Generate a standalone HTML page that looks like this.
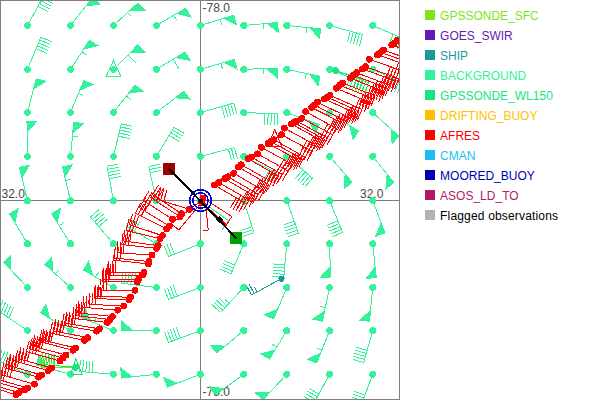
<!DOCTYPE html>
<html><head><meta charset="utf-8"><title>Wind observations</title>
<style>
html,body{margin:0;padding:0;background:#fff;}
body{width:600px;height:400px;position:relative;overflow:hidden;font-family:"Liberation Sans",Arial,sans-serif;font-size:12px;}
#plot{position:absolute;left:0;top:0;width:400px;height:400px;overflow:hidden;}
#plot svg{position:absolute;left:0;top:0;}
#frame{position:absolute;left:0;top:0;width:398px;height:398px;border:1px solid #808080;}
.li{position:absolute;left:425px;height:10px;white-space:nowrap;}
.sw{position:absolute;left:0;top:0;width:10px;height:10px;}
.tx{position:absolute;left:15.1px;top:-1.3px;line-height:14px;font-size:12px;}
</style></head><body>
<div id="plot">
<svg width="400" height="400" viewBox="0 0 400 400">
<g shape-rendering="crispEdges">
<rect x="0" y="200" width="400" height="1" fill="#7d7d7d"/>
<rect x="200" y="0" width="1" height="400" fill="#7d7d7d"/>
</g>
<g font-family="&quot;Liberation Sans&quot;, Arial, sans-serif" font-size="12" fill="#4a4a4a">
<text x="202.6" y="12">-78.0</text>
<text x="202.6" y="396">-78.0</text>
<text x="1.5" y="198">32.0</text>
<text x="360" y="198">32.0</text>
</g>
<g shape-rendering="crispEdges" stroke-linecap="butt">
<line x1="27.5" y1="25.5" x2="44" y2="-4.8" stroke="#33f299" stroke-width="1"/>
<line x1="44" y1="-4.8" x2="54.1" y2="0.7" stroke="#33f299" stroke-width="1"/>
<line x1="42.49" y1="-2.03" x2="52.59" y2="3.47" stroke="#33f299" stroke-width="1"/>
<line x1="40.99" y1="0.73" x2="51.09" y2="6.23" stroke="#33f299" stroke-width="1"/>
<line x1="39.48" y1="3.5" x2="49.58" y2="9" stroke="#33f299" stroke-width="1"/>
<line x1="37.97" y1="6.27" x2="48.07" y2="11.77" stroke="#33f299" stroke-width="1"/>
<circle cx="27.5" cy="25.5" r="3.4" fill="#33f299"/>
<line x1="70.5" y1="25.5" x2="92.5" y2="-2.2" stroke="#33f299" stroke-width="1"/>
<polygon points="92.5,-2.2 100.33,4.02 85.97,6.02" fill="#33f299" stroke="#33f299" stroke-width="1"/>
<circle cx="70.5" cy="25.5" r="3.4" fill="#33f299"/>
<line x1="113.5" y1="25.5" x2="138" y2="3" stroke="#33f299" stroke-width="1"/>
<polygon points="138,3 144.76,10.37 130.27,10.1" fill="#33f299" stroke="#33f299" stroke-width="1"/>
<line x1="127.69" y1="12.47" x2="131.41" y2="16.52" stroke="#33f299" stroke-width="1"/>
<circle cx="113.5" cy="25.5" r="3.4" fill="#33f299"/>
<line x1="156.4" y1="25.5" x2="185.75" y2="8.25" stroke="#33f299" stroke-width="1"/>
<polygon points="185.75,8.25 190.82,16.87 176.7,13.57" fill="#33f299" stroke="#33f299" stroke-width="1"/>
<line x1="173.68" y1="15.34" x2="176.47" y2="20.09" stroke="#33f299" stroke-width="1"/>
<circle cx="156.4" cy="25.5" r="3.4" fill="#33f299"/>
<line x1="200.4" y1="25.5" x2="233.6" y2="15.2" stroke="#33f299" stroke-width="1"/>
<polygon points="233.6,15.2 236.56,24.75 223.57,18.31" fill="#33f299" stroke="#33f299" stroke-width="1"/>
<line x1="220.23" y1="19.35" x2="221.86" y2="24.6" stroke="#33f299" stroke-width="1"/>
<circle cx="200.4" cy="25.5" r="3.4" fill="#33f299"/>
<line x1="243.75" y1="25.5" x2="277.5" y2="22.5" stroke="#33f299" stroke-width="1"/>
<polygon points="277.5,22.5 278.39,32.46 267.04,23.43" fill="#33f299" stroke="#33f299" stroke-width="1"/>
<line x1="263.55" y1="23.74" x2="264.04" y2="29.22" stroke="#33f299" stroke-width="1"/>
<circle cx="243.75" cy="25.5" r="3.4" fill="#33f299"/>
<line x1="286.75" y1="25.5" x2="320.5" y2="28.75" stroke="#33f299" stroke-width="1"/>
<polygon points="320.5,28.75 319.54,38.7 310.05,27.74" fill="#33f299" stroke="#33f299" stroke-width="1"/>
<line x1="306.56" y1="27.41" x2="306.04" y2="32.88" stroke="#33f299" stroke-width="1"/>
<circle cx="286.75" cy="25.5" r="3.4" fill="#33f299"/>
<line x1="329.6" y1="25.5" x2="362.5" y2="34.5" stroke="#33f299" stroke-width="1"/>
<line x1="362.5" y1="34.5" x2="359.47" y2="45.59" stroke="#33f299" stroke-width="1"/>
<line x1="359.46" y1="33.67" x2="356.43" y2="44.76" stroke="#33f299" stroke-width="1"/>
<line x1="356.42" y1="32.84" x2="353.39" y2="43.93" stroke="#33f299" stroke-width="1"/>
<line x1="353.38" y1="32.01" x2="350.35" y2="43.1" stroke="#33f299" stroke-width="1"/>
<line x1="350.35" y1="31.18" x2="347.31" y2="42.27" stroke="#33f299" stroke-width="1"/>
<circle cx="329.6" cy="25.5" r="3.4" fill="#33f299"/>
<line x1="372.7" y1="25.5" x2="404.8" y2="39.3" stroke="#33f299" stroke-width="1"/>
<line x1="404.8" y1="39.3" x2="400.26" y2="49.87" stroke="#33f299" stroke-width="1"/>
<line x1="401.91" y1="38.06" x2="397.36" y2="48.62" stroke="#33f299" stroke-width="1"/>
<line x1="399.01" y1="36.81" x2="394.47" y2="47.38" stroke="#33f299" stroke-width="1"/>
<line x1="396.12" y1="35.57" x2="391.58" y2="46.13" stroke="#33f299" stroke-width="1"/>
<line x1="393.22" y1="34.32" x2="388.68" y2="44.89" stroke="#33f299" stroke-width="1"/>
<circle cx="372.7" cy="25.5" r="3.4" fill="#33f299"/>
<line x1="27.5" y1="69.4" x2="40.9" y2="37.1" stroke="#33f299" stroke-width="1"/>
<line x1="40.9" y1="37.1" x2="51.52" y2="41.51" stroke="#33f299" stroke-width="1"/>
<line x1="39.69" y1="40.01" x2="50.32" y2="44.42" stroke="#33f299" stroke-width="1"/>
<line x1="38.49" y1="42.92" x2="49.11" y2="47.33" stroke="#33f299" stroke-width="1"/>
<line x1="37.28" y1="45.83" x2="47.9" y2="50.24" stroke="#33f299" stroke-width="1"/>
<line x1="36.07" y1="48.74" x2="46.69" y2="53.14" stroke="#33f299" stroke-width="1"/>
<circle cx="27.5" cy="69.4" r="3.4" fill="#33f299"/>
<line x1="70.5" y1="69.4" x2="89.5" y2="40.2" stroke="#33f299" stroke-width="1"/>
<polygon points="89.5,40.2 97.88,45.65 83.77,49" fill="#33f299" stroke="#33f299" stroke-width="1"/>
<line x1="81.86" y1="51.93" x2="86.47" y2="54.93" stroke="#33f299" stroke-width="1"/>
<circle cx="70.5" cy="69.4" r="3.4" fill="#33f299"/>
<line x1="113.5" y1="69.4" x2="137.7" y2="45" stroke="#33f299" stroke-width="1"/>
<polygon points="137.7,45 144.8,52.04 130.31,52.46" fill="#33f299" stroke="#33f299" stroke-width="1"/>
<line x1="127.84" y1="54.94" x2="136.01" y2="63.04" stroke="#33f299" stroke-width="1"/>
<circle cx="113.5" cy="69.4" r="3.4" fill="#33f299"/>
<line x1="156.4" y1="69.4" x2="185" y2="52" stroke="#33f299" stroke-width="1"/>
<polygon points="185,52 190.2,60.54 176.03,57.46" fill="#33f299" stroke="#33f299" stroke-width="1"/>
<line x1="173.04" y1="59.28" x2="179.02" y2="69.1" stroke="#33f299" stroke-width="1"/>
<circle cx="156.4" cy="69.4" r="3.4" fill="#33f299"/>
<line x1="200.4" y1="69.4" x2="234.25" y2="59.5" stroke="#33f299" stroke-width="1"/>
<polygon points="234.25,59.5 237.06,69.1 224.17,62.45" fill="#33f299" stroke="#33f299" stroke-width="1"/>
<line x1="220.81" y1="63.43" x2="222.36" y2="68.71" stroke="#33f299" stroke-width="1"/>
<circle cx="200.4" cy="69.4" r="3.4" fill="#33f299"/>
<line x1="243.75" y1="69.4" x2="277" y2="68" stroke="#33f299" stroke-width="1"/>
<polygon points="277,68 277.42,77.99 266.51,68.44" fill="#33f299" stroke="#33f299" stroke-width="1"/>
<line x1="263.01" y1="68.59" x2="263.24" y2="74.08" stroke="#33f299" stroke-width="1"/>
<circle cx="243.75" cy="69.4" r="3.4" fill="#33f299"/>
<line x1="286.75" y1="69.4" x2="320" y2="76.25" stroke="#33f299" stroke-width="1"/>
<polygon points="320,76.25 317.98,86.04 309.72,74.13" fill="#33f299" stroke="#33f299" stroke-width="1"/>
<line x1="306.29" y1="73.43" x2="305.18" y2="78.81" stroke="#33f299" stroke-width="1"/>
<circle cx="286.75" cy="69.4" r="3.4" fill="#33f299"/>
<line x1="329.6" y1="69.4" x2="362" y2="82" stroke="#33f299" stroke-width="1"/>
<line x1="362" y1="82" x2="357.83" y2="92.72" stroke="#33f299" stroke-width="1"/>
<line x1="359.06" y1="80.86" x2="354.9" y2="91.58" stroke="#33f299" stroke-width="1"/>
<line x1="356.13" y1="79.72" x2="351.96" y2="90.43" stroke="#33f299" stroke-width="1"/>
<line x1="353.19" y1="78.57" x2="349.02" y2="89.29" stroke="#33f299" stroke-width="1"/>
<line x1="350.26" y1="77.43" x2="346.09" y2="88.15" stroke="#33f299" stroke-width="1"/>
<circle cx="329.6" cy="69.4" r="3.4" fill="#33f299"/>
<line x1="372.7" y1="69.4" x2="405" y2="84" stroke="#33f299" stroke-width="1"/>
<line x1="405" y1="84" x2="400.26" y2="94.48" stroke="#33f299" stroke-width="1"/>
<line x1="402.13" y1="82.7" x2="397.39" y2="93.18" stroke="#33f299" stroke-width="1"/>
<line x1="399.26" y1="81.41" x2="394.52" y2="91.88" stroke="#33f299" stroke-width="1"/>
<line x1="396.39" y1="80.11" x2="391.65" y2="90.59" stroke="#33f299" stroke-width="1"/>
<line x1="393.52" y1="78.81" x2="388.78" y2="89.29" stroke="#33f299" stroke-width="1"/>
<circle cx="372.7" cy="69.4" r="3.4" fill="#33f299"/>
<line x1="27.5" y1="112.6" x2="36.25" y2="78.75" stroke="#33f299" stroke-width="1"/>
<polygon points="36.25,78.75 45.93,81.25 33.62,88.92" fill="#33f299" stroke="#33f299" stroke-width="1"/>
<circle cx="27.5" cy="112.6" r="3.4" fill="#33f299"/>
<line x1="70.5" y1="112.6" x2="83.75" y2="80.5" stroke="#33f299" stroke-width="1"/>
<polygon points="83.75,80.5 92.99,84.32 79.74,90.21" fill="#33f299" stroke="#33f299" stroke-width="1"/>
<line x1="78.41" y1="93.44" x2="83.49" y2="95.54" stroke="#33f299" stroke-width="1"/>
<circle cx="70.5" cy="112.6" r="3.4" fill="#33f299"/>
<line x1="113.5" y1="112.6" x2="135" y2="85" stroke="#33f299" stroke-width="1"/>
<polygon points="135,85 142.89,91.15 128.55,93.28" fill="#33f299" stroke="#33f299" stroke-width="1"/>
<line x1="126.4" y1="96.04" x2="130.74" y2="99.42" stroke="#33f299" stroke-width="1"/>
<circle cx="113.5" cy="112.6" r="3.4" fill="#33f299"/>
<line x1="156.4" y1="112.6" x2="183.75" y2="91.25" stroke="#33f299" stroke-width="1"/>
<polygon points="183.75,91.25 189.9,99.13 175.47,97.71" fill="#33f299" stroke="#33f299" stroke-width="1"/>
<circle cx="156.4" cy="112.6" r="3.4" fill="#33f299"/>
<line x1="200.4" y1="112.6" x2="233.75" y2="103" stroke="#33f299" stroke-width="1"/>
<line x1="233.75" y1="103" x2="236.93" y2="114.05" stroke="#33f299" stroke-width="1"/>
<line x1="230.72" y1="103.87" x2="233.9" y2="114.92" stroke="#33f299" stroke-width="1"/>
<line x1="227.7" y1="104.74" x2="230.88" y2="115.79" stroke="#33f299" stroke-width="1"/>
<line x1="224.67" y1="105.61" x2="227.85" y2="116.67" stroke="#33f299" stroke-width="1"/>
<line x1="221.64" y1="106.49" x2="224.82" y2="117.54" stroke="#33f299" stroke-width="1"/>
<circle cx="200.4" cy="112.6" r="3.4" fill="#33f299"/>
<line x1="243.75" y1="112.6" x2="277.6" y2="113.75" stroke="#33f299" stroke-width="1"/>
<line x1="277.6" y1="113.75" x2="277.21" y2="125.24" stroke="#33f299" stroke-width="1"/>
<line x1="274.45" y1="113.64" x2="274.06" y2="125.14" stroke="#33f299" stroke-width="1"/>
<line x1="271.3" y1="113.54" x2="270.91" y2="125.03" stroke="#33f299" stroke-width="1"/>
<line x1="268.16" y1="113.43" x2="267.76" y2="124.92" stroke="#33f299" stroke-width="1"/>
<line x1="265.01" y1="113.32" x2="264.62" y2="124.82" stroke="#33f299" stroke-width="1"/>
<circle cx="243.75" cy="112.6" r="3.4" fill="#33f299"/>
<line x1="286.75" y1="112.6" x2="319" y2="124.5" stroke="#33f299" stroke-width="1"/>
<polygon points="319,124.5 315.54,133.88 309.15,120.87" fill="#33f299" stroke="#33f299" stroke-width="1"/>
<circle cx="286.75" cy="112.6" r="3.4" fill="#33f299"/>
<line x1="329.6" y1="112.6" x2="358.5" y2="131" stroke="#33f299" stroke-width="1"/>
<polygon points="358.5,131 353.13,139.44 349.64,125.36" fill="#33f299" stroke="#33f299" stroke-width="1"/>
<circle cx="329.6" cy="112.6" r="3.4" fill="#33f299"/>
<line x1="372.7" y1="112.6" x2="398.8" y2="136" stroke="#33f299" stroke-width="1"/>
<polygon points="398.8,136 392.12,143.45 390.98,128.99" fill="#33f299" stroke="#33f299" stroke-width="1"/>
<circle cx="372.7" cy="112.6" r="3.4" fill="#33f299"/>
<line x1="27.5" y1="156.4" x2="27" y2="121.25" stroke="#33f299" stroke-width="1"/>
<polygon points="27,121.25 37,121.11 27.15,131.75" fill="#33f299" stroke="#33f299" stroke-width="1"/>
<circle cx="27.5" cy="156.4" r="3.4" fill="#33f299"/>
<line x1="70.5" y1="156.4" x2="73.75" y2="122.5" stroke="#33f299" stroke-width="1"/>
<polygon points="73.75,122.5 83.7,123.45 72.75,132.95" fill="#33f299" stroke="#33f299" stroke-width="1"/>
<line x1="72.41" y1="136.44" x2="77.89" y2="136.96" stroke="#33f299" stroke-width="1"/>
<circle cx="70.5" cy="156.4" r="3.4" fill="#33f299"/>
<line x1="113.5" y1="156.4" x2="121.25" y2="123.75" stroke="#33f299" stroke-width="1"/>
<line x1="121.25" y1="123.75" x2="132.44" y2="126.41" stroke="#33f299" stroke-width="1"/>
<line x1="120.52" y1="126.81" x2="131.71" y2="129.47" stroke="#33f299" stroke-width="1"/>
<line x1="119.8" y1="129.88" x2="130.98" y2="132.54" stroke="#33f299" stroke-width="1"/>
<line x1="119.07" y1="132.94" x2="130.26" y2="135.6" stroke="#33f299" stroke-width="1"/>
<line x1="118.34" y1="136.01" x2="129.53" y2="138.67" stroke="#33f299" stroke-width="1"/>
<circle cx="113.5" cy="156.4" r="3.4" fill="#33f299"/>
<line x1="156.4" y1="156.4" x2="174.1" y2="127.25" stroke="#33f299" stroke-width="1"/>
<line x1="174.1" y1="127.25" x2="183.93" y2="133.22" stroke="#33f299" stroke-width="1"/>
<line x1="172.47" y1="129.94" x2="182.29" y2="135.91" stroke="#33f299" stroke-width="1"/>
<line x1="170.83" y1="132.64" x2="180.66" y2="138.6" stroke="#33f299" stroke-width="1"/>
<line x1="169.2" y1="135.33" x2="179.03" y2="141.3" stroke="#33f299" stroke-width="1"/>
<circle cx="156.4" cy="156.4" r="3.4" fill="#33f299"/>
<line x1="200.4" y1="156.4" x2="234.5" y2="147.6" stroke="#33f299" stroke-width="1"/>
<line x1="234.5" y1="147.6" x2="237.37" y2="158.74" stroke="#33f299" stroke-width="1"/>
<line x1="231.45" y1="148.39" x2="234.32" y2="159.52" stroke="#33f299" stroke-width="1"/>
<line x1="228.4" y1="149.17" x2="231.27" y2="160.31" stroke="#33f299" stroke-width="1"/>
<circle cx="200.4" cy="156.4" r="3.4" fill="#33f299"/>
<line x1="243.75" y1="156.4" x2="275" y2="172" stroke="#33f299" stroke-width="1"/>
<line x1="275" y1="172" x2="269.86" y2="182.29" stroke="#33f299" stroke-width="1"/>
<line x1="272.18" y1="170.59" x2="267.05" y2="180.88" stroke="#33f299" stroke-width="1"/>
<line x1="269.36" y1="169.19" x2="264.23" y2="179.48" stroke="#33f299" stroke-width="1"/>
<circle cx="243.75" cy="156.4" r="3.4" fill="#33f299"/>
<line x1="286.75" y1="156.4" x2="312.5" y2="178" stroke="#33f299" stroke-width="1"/>
<line x1="312.5" y1="178" x2="305.11" y2="186.81" stroke="#33f299" stroke-width="1"/>
<line x1="310.09" y1="175.98" x2="302.7" y2="184.79" stroke="#33f299" stroke-width="1"/>
<line x1="307.67" y1="173.95" x2="300.28" y2="182.76" stroke="#33f299" stroke-width="1"/>
<line x1="305.26" y1="171.93" x2="297.87" y2="180.74" stroke="#33f299" stroke-width="1"/>
<line x1="302.85" y1="169.9" x2="295.46" y2="178.71" stroke="#33f299" stroke-width="1"/>
<circle cx="286.75" cy="156.4" r="3.4" fill="#33f299"/>
<line x1="329.6" y1="156.4" x2="352" y2="182" stroke="#33f299" stroke-width="1"/>
<polygon points="352,182 344.47,188.59 345.09,174.1" fill="#33f299" stroke="#33f299" stroke-width="1"/>
<circle cx="329.6" cy="156.4" r="3.4" fill="#33f299"/>
<line x1="372.7" y1="156.4" x2="393.75" y2="182.5" stroke="#33f299" stroke-width="1"/>
<polygon points="393.75,182.5 385.97,188.78 387.16,174.33" fill="#33f299" stroke="#33f299" stroke-width="1"/>
<circle cx="372.7" cy="156.4" r="3.4" fill="#33f299"/>
<line x1="27.5" y1="200.7" x2="19.5" y2="167.5" stroke="#33f299" stroke-width="1"/>
<polygon points="19.5,167.5 29.22,165.16 21.96,177.71" fill="#33f299" stroke="#33f299" stroke-width="1"/>
<circle cx="27.5" cy="200.7" r="3.4" fill="#33f299"/>
<line x1="70.5" y1="200.7" x2="62.5" y2="167" stroke="#33f299" stroke-width="1"/>
<polygon points="62.5,167 72.23,164.69 64.93,177.22" fill="#33f299" stroke="#33f299" stroke-width="1"/>
<line x1="65.73" y1="180.62" x2="71.08" y2="179.35" stroke="#33f299" stroke-width="1"/>
<circle cx="70.5" cy="200.7" r="3.4" fill="#33f299"/>
<line x1="113.5" y1="200.7" x2="107" y2="166.25" stroke="#33f299" stroke-width="1"/>
<line x1="107" y1="166.25" x2="118.3" y2="164.12" stroke="#33f299" stroke-width="1"/>
<line x1="107.58" y1="169.35" x2="118.88" y2="167.21" stroke="#33f299" stroke-width="1"/>
<line x1="108.17" y1="172.44" x2="119.47" y2="170.31" stroke="#33f299" stroke-width="1"/>
<line x1="108.75" y1="175.54" x2="120.05" y2="173.4" stroke="#33f299" stroke-width="1"/>
<line x1="109.34" y1="178.63" x2="120.64" y2="176.5" stroke="#33f299" stroke-width="1"/>
<circle cx="113.5" cy="200.7" r="3.4" fill="#33f299"/>
<line x1="156.4" y1="200.7" x2="148.75" y2="166.6" stroke="#33f299" stroke-width="1"/>
<line x1="148.75" y1="166.6" x2="159.97" y2="164.08" stroke="#33f299" stroke-width="1"/>
<line x1="149.44" y1="169.67" x2="160.66" y2="167.16" stroke="#33f299" stroke-width="1"/>
<line x1="150.13" y1="172.75" x2="161.35" y2="170.23" stroke="#33f299" stroke-width="1"/>
<circle cx="156.4" cy="200.7" r="3.4" fill="#33f299"/>
<line x1="200.4" y1="200.7" x2="228.6" y2="220.6" stroke="#33f299" stroke-width="1"/>
<line x1="228.6" y1="220.6" x2="221.97" y2="230" stroke="#33f299" stroke-width="1"/>
<circle cx="200.4" cy="200.7" r="3.4" fill="#33f299"/>
<line x1="243.75" y1="200.7" x2="254" y2="232.8" stroke="#33f299" stroke-width="1"/>
<line x1="254" y1="232.8" x2="243.04" y2="236.3" stroke="#33f299" stroke-width="1"/>
<line x1="253.04" y1="229.8" x2="242.09" y2="233.3" stroke="#33f299" stroke-width="1"/>
<line x1="252.08" y1="226.8" x2="241.13" y2="230.3" stroke="#33f299" stroke-width="1"/>
<circle cx="243.75" cy="200.7" r="3.4" fill="#33f299"/>
<line x1="286.75" y1="200.7" x2="298.5" y2="233" stroke="#33f299" stroke-width="1"/>
<line x1="298.5" y1="233" x2="287.69" y2="236.93" stroke="#33f299" stroke-width="1"/>
<line x1="297.42" y1="230.04" x2="286.62" y2="233.97" stroke="#33f299" stroke-width="1"/>
<line x1="296.35" y1="227.08" x2="285.54" y2="231.01" stroke="#33f299" stroke-width="1"/>
<line x1="295.27" y1="224.12" x2="284.46" y2="228.05" stroke="#33f299" stroke-width="1"/>
<line x1="294.19" y1="221.16" x2="283.39" y2="225.09" stroke="#33f299" stroke-width="1"/>
<circle cx="286.75" cy="200.7" r="3.4" fill="#33f299"/>
<line x1="329.6" y1="200.7" x2="342.6" y2="232.5" stroke="#33f299" stroke-width="1"/>
<line x1="342.6" y1="232.5" x2="331.96" y2="236.85" stroke="#33f299" stroke-width="1"/>
<line x1="341.41" y1="229.58" x2="330.76" y2="233.94" stroke="#33f299" stroke-width="1"/>
<line x1="340.22" y1="226.67" x2="329.57" y2="231.02" stroke="#33f299" stroke-width="1"/>
<line x1="339.02" y1="223.75" x2="328.38" y2="228.1" stroke="#33f299" stroke-width="1"/>
<line x1="337.83" y1="220.84" x2="327.19" y2="225.19" stroke="#33f299" stroke-width="1"/>
<circle cx="329.6" cy="200.7" r="3.4" fill="#33f299"/>
<line x1="372.7" y1="200.7" x2="385" y2="232.8" stroke="#33f299" stroke-width="1"/>
<polygon points="385,232.8 375.66,236.38 381.24,223" fill="#33f299" stroke="#33f299" stroke-width="1"/>
<circle cx="372.7" cy="200.7" r="3.4" fill="#33f299"/>
<line x1="27.5" y1="243.75" x2="9.5" y2="213.75" stroke="#33f299" stroke-width="1"/>
<polygon points="9.5,213.75 18.07,208.61 14.9,222.75" fill="#33f299" stroke="#33f299" stroke-width="1"/>
<circle cx="27.5" cy="243.75" r="3.4" fill="#33f299"/>
<line x1="70.5" y1="243.75" x2="51.75" y2="213.75" stroke="#33f299" stroke-width="1"/>
<polygon points="51.75,213.75 60.23,208.45 57.31,222.65" fill="#33f299" stroke="#33f299" stroke-width="1"/>
<line x1="59.17" y1="225.62" x2="63.83" y2="222.71" stroke="#33f299" stroke-width="1"/>
<circle cx="70.5" cy="243.75" r="3.4" fill="#33f299"/>
<line x1="113.5" y1="243.75" x2="90.5" y2="217" stroke="#33f299" stroke-width="1"/>
<line x1="90.5" y1="217" x2="99.22" y2="209.5" stroke="#33f299" stroke-width="1"/>
<line x1="92.55" y1="219.39" x2="101.27" y2="211.89" stroke="#33f299" stroke-width="1"/>
<line x1="94.61" y1="221.78" x2="103.33" y2="214.28" stroke="#33f299" stroke-width="1"/>
<line x1="96.66" y1="224.17" x2="105.38" y2="216.67" stroke="#33f299" stroke-width="1"/>
<line x1="98.71" y1="226.55" x2="107.43" y2="219.06" stroke="#33f299" stroke-width="1"/>
<circle cx="113.5" cy="243.75" r="3.4" fill="#33f299"/>
<line x1="156.4" y1="243.75" x2="126" y2="226.5" stroke="#33f299" stroke-width="1"/>
<line x1="126" y1="226.5" x2="131.68" y2="216.5" stroke="#33f299" stroke-width="1"/>
<line x1="128.74" y1="228.05" x2="134.42" y2="218.05" stroke="#33f299" stroke-width="1"/>
<line x1="131.48" y1="229.61" x2="137.15" y2="219.61" stroke="#33f299" stroke-width="1"/>
<line x1="134.22" y1="231.16" x2="139.89" y2="221.16" stroke="#33f299" stroke-width="1"/>
<circle cx="156.4" cy="243.75" r="3.4" fill="#33f299"/>
<line x1="200.4" y1="243.75" x2="168.5" y2="256.5" stroke="#33f299" stroke-width="1"/>
<line x1="168.5" y1="256.5" x2="164.23" y2="245.82" stroke="#33f299" stroke-width="1"/>
<line x1="171.43" y1="255.33" x2="167.16" y2="244.65" stroke="#33f299" stroke-width="1"/>
<line x1="174.35" y1="254.16" x2="170.08" y2="243.48" stroke="#33f299" stroke-width="1"/>
<circle cx="200.4" cy="243.75" r="3.4" fill="#33f299"/>
<line x1="243.75" y1="243.75" x2="231" y2="273.8" stroke="#33f299" stroke-width="1"/>
<line x1="231" y1="273.8" x2="220.41" y2="269.31" stroke="#33f299" stroke-width="1"/>
<line x1="232.23" y1="270.9" x2="221.64" y2="266.41" stroke="#33f299" stroke-width="1"/>
<line x1="233.46" y1="268" x2="222.87" y2="263.51" stroke="#33f299" stroke-width="1"/>
<line x1="234.69" y1="265.1" x2="224.1" y2="260.61" stroke="#33f299" stroke-width="1"/>
<circle cx="243.75" cy="243.75" r="3.4" fill="#33f299"/>
<line x1="286.75" y1="243.75" x2="283.75" y2="277.5" stroke="#33f299" stroke-width="1"/>
<line x1="283.75" y1="277.5" x2="272.3" y2="276.48" stroke="#33f299" stroke-width="1"/>
<line x1="284.03" y1="274.36" x2="272.57" y2="273.34" stroke="#33f299" stroke-width="1"/>
<line x1="284.31" y1="271.22" x2="272.85" y2="270.21" stroke="#33f299" stroke-width="1"/>
<line x1="284.59" y1="268.09" x2="273.13" y2="267.07" stroke="#33f299" stroke-width="1"/>
<line x1="284.87" y1="264.95" x2="273.41" y2="263.93" stroke="#33f299" stroke-width="1"/>
<circle cx="286.75" cy="243.75" r="3.4" fill="#33f299"/>
<line x1="329.6" y1="243.75" x2="330.5" y2="277" stroke="#33f299" stroke-width="1"/>
<polygon points="330.5,277 320.5,277.27 330.22,266.5" fill="#33f299" stroke="#33f299" stroke-width="1"/>
<circle cx="329.6" cy="243.75" r="3.4" fill="#33f299"/>
<line x1="372.7" y1="243.75" x2="376.25" y2="277.5" stroke="#33f299" stroke-width="1"/>
<polygon points="376.25,277.5 366.3,278.55 375.15,267.06" fill="#33f299" stroke="#33f299" stroke-width="1"/>
<circle cx="372.7" cy="243.75" r="3.4" fill="#33f299"/>
<line x1="27.5" y1="287.5" x2="3.75" y2="262.5" stroke="#33f299" stroke-width="1"/>
<polygon points="3.75,262.5 11,255.61 10.98,270.11" fill="#33f299" stroke="#33f299" stroke-width="1"/>
<circle cx="27.5" cy="287.5" r="3.4" fill="#33f299"/>
<line x1="70.5" y1="287.5" x2="45" y2="264.5" stroke="#33f299" stroke-width="1"/>
<polygon points="45,264.5 51.7,257.07 52.8,271.53" fill="#33f299" stroke="#33f299" stroke-width="1"/>
<line x1="55.4" y1="273.88" x2="59.08" y2="269.79" stroke="#33f299" stroke-width="1"/>
<circle cx="70.5" cy="287.5" r="3.4" fill="#33f299"/>
<line x1="113.5" y1="287.5" x2="83.5" y2="270" stroke="#33f299" stroke-width="1"/>
<polygon points="83.5,270 88.54,261.36 92.57,275.29" fill="#33f299" stroke="#33f299" stroke-width="1"/>
<line x1="95.59" y1="277.05" x2="98.36" y2="272.3" stroke="#33f299" stroke-width="1"/>
<circle cx="113.5" cy="287.5" r="3.4" fill="#33f299"/>
<line x1="156.4" y1="287.5" x2="121.5" y2="283.2" stroke="#33f299" stroke-width="1"/>
<line x1="121.5" y1="283.2" x2="122.91" y2="271.79" stroke="#33f299" stroke-width="1"/>
<line x1="124.63" y1="283.59" x2="126.03" y2="272.17" stroke="#33f299" stroke-width="1"/>
<line x1="127.75" y1="283.97" x2="129.16" y2="272.56" stroke="#33f299" stroke-width="1"/>
<line x1="130.88" y1="284.36" x2="132.29" y2="272.94" stroke="#33f299" stroke-width="1"/>
<line x1="134.01" y1="284.74" x2="135.41" y2="273.33" stroke="#33f299" stroke-width="1"/>
<circle cx="156.4" cy="287.5" r="3.4" fill="#33f299"/>
<line x1="200.4" y1="287.5" x2="168.5" y2="299.5" stroke="#33f299" stroke-width="1"/>
<line x1="168.5" y1="299.5" x2="164.45" y2="288.74" stroke="#33f299" stroke-width="1"/>
<line x1="171.45" y1="298.39" x2="167.4" y2="287.63" stroke="#33f299" stroke-width="1"/>
<line x1="174.4" y1="297.28" x2="170.35" y2="286.52" stroke="#33f299" stroke-width="1"/>
<line x1="177.34" y1="296.17" x2="173.3" y2="285.41" stroke="#33f299" stroke-width="1"/>
<circle cx="200.4" cy="287.5" r="3.4" fill="#33f299"/>
<line x1="243.75" y1="287.5" x2="220.5" y2="312.5" stroke="#33f299" stroke-width="1"/>
<line x1="220.5" y1="312.5" x2="212.08" y2="304.67" stroke="#33f299" stroke-width="1"/>
<line x1="222.65" y1="310.19" x2="214.22" y2="302.36" stroke="#33f299" stroke-width="1"/>
<line x1="224.79" y1="307.89" x2="216.37" y2="300.06" stroke="#33f299" stroke-width="1"/>
<line x1="226.94" y1="305.58" x2="218.51" y2="297.75" stroke="#33f299" stroke-width="1"/>
<line x1="229.08" y1="303.27" x2="225.05" y2="299.53" stroke="#33f299" stroke-width="1"/>
<circle cx="243.75" cy="287.5" r="3.4" fill="#33f299"/>
<line x1="286.75" y1="287.5" x2="273.75" y2="318.75" stroke="#33f299" stroke-width="1"/>
<polygon points="273.75,318.75 264.52,314.91 277.78,309.06" fill="#33f299" stroke="#33f299" stroke-width="1"/>
<circle cx="286.75" cy="287.5" r="3.4" fill="#33f299"/>
<line x1="329.6" y1="287.5" x2="322.5" y2="321.25" stroke="#33f299" stroke-width="1"/>
<polygon points="322.5,321.25 312.71,319.19 324.66,310.97" fill="#33f299" stroke="#33f299" stroke-width="1"/>
<line x1="325.38" y1="307.55" x2="320" y2="306.42" stroke="#33f299" stroke-width="1"/>
<circle cx="329.6" cy="287.5" r="3.4" fill="#33f299"/>
<line x1="372.7" y1="287.5" x2="369.5" y2="321.25" stroke="#33f299" stroke-width="1"/>
<polygon points="369.5,321.25 359.54,320.31 370.49,310.8" fill="#33f299" stroke="#33f299" stroke-width="1"/>
<circle cx="372.7" cy="287.5" r="3.4" fill="#33f299"/>
<line x1="27.5" y1="330.6" x2="-1.5" y2="311" stroke="#33f299" stroke-width="1"/>
<line x1="-1.5" y1="311" x2="2.95" y2="300.39" stroke="#33f299" stroke-width="1"/>
<line x1="1.11" y1="312.76" x2="5.56" y2="302.16" stroke="#33f299" stroke-width="1"/>
<line x1="3.72" y1="314.53" x2="8.17" y2="303.92" stroke="#33f299" stroke-width="1"/>
<line x1="6.33" y1="316.29" x2="10.78" y2="305.69" stroke="#33f299" stroke-width="1"/>
<line x1="8.94" y1="318.06" x2="13.39" y2="307.45" stroke="#33f299" stroke-width="1"/>
<circle cx="27.5" cy="330.6" r="3.4" fill="#33f299"/>
<line x1="70.5" y1="330.6" x2="40.75" y2="313" stroke="#33f299" stroke-width="1"/>
<polygon points="40.75,313 45.84,304.39 49.79,318.35" fill="#33f299" stroke="#33f299" stroke-width="1"/>
<circle cx="70.5" cy="330.6" r="3.4" fill="#33f299"/>
<line x1="113.5" y1="330.6" x2="81.25" y2="317.5" stroke="#33f299" stroke-width="1"/>
<polygon points="81.25,317.5 85.01,308.24 90.98,321.45" fill="#33f299" stroke="#33f299" stroke-width="1"/>
<line x1="94.22" y1="322.77" x2="96.29" y2="317.67" stroke="#33f299" stroke-width="1"/>
<circle cx="113.5" cy="330.6" r="3.4" fill="#33f299"/>
<line x1="156.4" y1="330.6" x2="121.5" y2="330.5" stroke="#33f299" stroke-width="1"/>
<polygon points="121.5,330.5 121.53,320.5 132,330.53" fill="#33f299" stroke="#33f299" stroke-width="1"/>
<circle cx="156.4" cy="330.6" r="3.4" fill="#33f299"/>
<line x1="200.4" y1="330.6" x2="168.5" y2="342.5" stroke="#33f299" stroke-width="1"/>
<line x1="168.5" y1="342.5" x2="164.48" y2="331.73" stroke="#33f299" stroke-width="1"/>
<line x1="171.45" y1="341.4" x2="167.43" y2="330.62" stroke="#33f299" stroke-width="1"/>
<line x1="174.4" y1="340.3" x2="170.38" y2="329.52" stroke="#33f299" stroke-width="1"/>
<line x1="177.35" y1="339.2" x2="173.33" y2="328.42" stroke="#33f299" stroke-width="1"/>
<line x1="180.31" y1="338.1" x2="176.29" y2="327.32" stroke="#33f299" stroke-width="1"/>
<circle cx="200.4" cy="330.6" r="3.4" fill="#33f299"/>
<line x1="243.75" y1="330.6" x2="216.75" y2="352.9" stroke="#33f299" stroke-width="1"/>
<polygon points="216.75,352.9 210.38,345.19 224.85,346.21" fill="#33f299" stroke="#33f299" stroke-width="1"/>
<circle cx="243.75" cy="330.6" r="3.4" fill="#33f299"/>
<line x1="286.75" y1="330.6" x2="269.5" y2="359" stroke="#33f299" stroke-width="1"/>
<polygon points="269.5,359 260.95,353.81 274.95,350.03" fill="#33f299" stroke="#33f299" stroke-width="1"/>
<line x1="276.77" y1="347.03" x2="272.07" y2="344.18" stroke="#33f299" stroke-width="1"/>
<circle cx="286.75" cy="330.6" r="3.4" fill="#33f299"/>
<line x1="329.6" y1="330.6" x2="316.6" y2="363" stroke="#33f299" stroke-width="1"/>
<polygon points="316.6,363 307.32,359.28 320.51,353.26" fill="#33f299" stroke="#33f299" stroke-width="1"/>
<line x1="321.81" y1="350.01" x2="316.71" y2="347.96" stroke="#33f299" stroke-width="1"/>
<circle cx="329.6" cy="330.6" r="3.4" fill="#33f299"/>
<line x1="372.7" y1="330.6" x2="363.75" y2="362.5" stroke="#33f299" stroke-width="1"/>
<line x1="363.75" y1="362.5" x2="352.68" y2="359.39" stroke="#33f299" stroke-width="1"/>
<line x1="364.6" y1="359.47" x2="353.53" y2="356.36" stroke="#33f299" stroke-width="1"/>
<line x1="365.45" y1="356.43" x2="354.38" y2="353.33" stroke="#33f299" stroke-width="1"/>
<line x1="366.3" y1="353.4" x2="355.23" y2="350.29" stroke="#33f299" stroke-width="1"/>
<line x1="367.15" y1="350.37" x2="356.08" y2="347.26" stroke="#33f299" stroke-width="1"/>
<circle cx="372.7" cy="330.6" r="3.4" fill="#33f299"/>
<line x1="27.5" y1="374.3" x2="-5.5" y2="359" stroke="#33f299" stroke-width="1"/>
<line x1="-5.5" y1="359" x2="-0.66" y2="348.57" stroke="#33f299" stroke-width="1"/>
<line x1="-2.64" y1="360.32" x2="2.19" y2="349.89" stroke="#33f299" stroke-width="1"/>
<line x1="0.22" y1="361.65" x2="5.05" y2="351.22" stroke="#33f299" stroke-width="1"/>
<line x1="3.07" y1="362.97" x2="7.91" y2="352.54" stroke="#33f299" stroke-width="1"/>
<line x1="5.93" y1="364.3" x2="10.77" y2="353.87" stroke="#33f299" stroke-width="1"/>
<circle cx="27.5" cy="374.3" r="3.4" fill="#33f299"/>
<line x1="70.5" y1="374.3" x2="36.5" y2="365" stroke="#33f299" stroke-width="1"/>
<polygon points="36.5,365 39.14,355.35 46.63,367.77" fill="#33f299" stroke="#33f299" stroke-width="1"/>
<circle cx="70.5" cy="374.3" r="3.4" fill="#33f299"/>
<line x1="113.5" y1="374.3" x2="79.5" y2="371.5" stroke="#33f299" stroke-width="1"/>
<line x1="79.5" y1="371.5" x2="80.44" y2="360.04" stroke="#33f299" stroke-width="1"/>
<line x1="82.64" y1="371.76" x2="83.58" y2="360.3" stroke="#33f299" stroke-width="1"/>
<line x1="85.78" y1="372.02" x2="86.72" y2="360.56" stroke="#33f299" stroke-width="1"/>
<line x1="88.92" y1="372.28" x2="89.86" y2="360.81" stroke="#33f299" stroke-width="1"/>
<line x1="92.06" y1="372.53" x2="93" y2="361.07" stroke="#33f299" stroke-width="1"/>
<circle cx="113.5" cy="374.3" r="3.4" fill="#33f299"/>
<line x1="156.4" y1="374.3" x2="121.75" y2="378" stroke="#33f299" stroke-width="1"/>
<polygon points="121.75,378 120.69,368.06 132.19,376.89" fill="#33f299" stroke="#33f299" stroke-width="1"/>
<circle cx="156.4" cy="374.3" r="3.4" fill="#33f299"/>
<line x1="200.4" y1="374.3" x2="167.5" y2="387" stroke="#33f299" stroke-width="1"/>
<polygon points="167.5,387 163.9,377.67 177.3,383.22" fill="#33f299" stroke="#33f299" stroke-width="1"/>
<circle cx="200.4" cy="374.3" r="3.4" fill="#33f299"/>
<line x1="243.75" y1="374.3" x2="215.45" y2="394.85" stroke="#33f299" stroke-width="1"/>
<polygon points="215.45,394.85 209.57,386.76 223.95,388.68" fill="#33f299" stroke="#33f299" stroke-width="1"/>
<circle cx="243.75" cy="374.3" r="3.4" fill="#33f299"/>
<line x1="286.75" y1="374.3" x2="262.85" y2="399.8" stroke="#33f299" stroke-width="1"/>
<polygon points="262.85,399.8 255.55,392.96 270.03,392.14" fill="#33f299" stroke="#33f299" stroke-width="1"/>
<circle cx="286.75" cy="374.3" r="3.4" fill="#33f299"/>
<line x1="329.6" y1="374.3" x2="312.9" y2="405" stroke="#33f299" stroke-width="1"/>
<line x1="312.9" y1="405" x2="302.8" y2="399.5" stroke="#33f299" stroke-width="1"/>
<line x1="314.41" y1="402.23" x2="304.3" y2="396.74" stroke="#33f299" stroke-width="1"/>
<line x1="315.91" y1="399.47" x2="305.81" y2="393.97" stroke="#33f299" stroke-width="1"/>
<line x1="317.42" y1="396.7" x2="307.31" y2="391.2" stroke="#33f299" stroke-width="1"/>
<line x1="318.92" y1="393.93" x2="308.82" y2="388.44" stroke="#33f299" stroke-width="1"/>
<circle cx="329.6" cy="374.3" r="3.4" fill="#33f299"/>
<line x1="372.7" y1="374.3" x2="360.5" y2="407" stroke="#33f299" stroke-width="1"/>
<line x1="360.5" y1="407" x2="349.73" y2="402.98" stroke="#33f299" stroke-width="1"/>
<line x1="361.6" y1="404.05" x2="350.83" y2="400.03" stroke="#33f299" stroke-width="1"/>
<line x1="362.7" y1="401.1" x2="351.93" y2="397.08" stroke="#33f299" stroke-width="1"/>
<line x1="363.8" y1="398.15" x2="353.03" y2="394.13" stroke="#33f299" stroke-width="1"/>
<line x1="364.9" y1="395.19" x2="354.13" y2="391.17" stroke="#33f299" stroke-width="1"/>
<circle cx="372.7" cy="374.3" r="3.4" fill="#33f299"/>
<polygon points="113.5,60.5 106.2,76.2 120.8,76.2" fill="none" stroke="#33f299" stroke-width="1"/>
<line x1="335.6" y1="70.6" x2="368.5" y2="82.5" stroke="#7fe519" stroke-width="1"/>
<line x1="368.5" y1="82.5" x2="364.59" y2="93.31" stroke="#7fe519" stroke-width="1"/>
<line x1="365.54" y1="81.43" x2="361.63" y2="92.24" stroke="#7fe519" stroke-width="1"/>
<line x1="362.58" y1="80.36" x2="358.66" y2="91.17" stroke="#7fe519" stroke-width="1"/>
<line x1="359.61" y1="79.29" x2="355.7" y2="90.1" stroke="#7fe519" stroke-width="1"/>
<circle cx="335.6" cy="70.6" r="3.4" fill="#7fe519"/>
<line x1="335.6" y1="70.6" x2="369" y2="81" stroke="#19e57f" stroke-width="1"/>
<line x1="369" y1="81" x2="365.58" y2="91.98" stroke="#19e57f" stroke-width="1"/>
<line x1="365.99" y1="80.06" x2="362.57" y2="91.04" stroke="#19e57f" stroke-width="1"/>
<line x1="362.98" y1="79.13" x2="359.57" y2="90.11" stroke="#19e57f" stroke-width="1"/>
<line x1="359.98" y1="78.19" x2="356.56" y2="89.17" stroke="#19e57f" stroke-width="1"/>
<line x1="356.97" y1="77.25" x2="353.55" y2="88.23" stroke="#19e57f" stroke-width="1"/>
<circle cx="335.6" cy="70.6" r="3.4" fill="#19e57f"/>
<line x1="75.75" y1="367.3" x2="40.5" y2="367.3" stroke="#7fe519" stroke-width="1"/>
<line x1="40.5" y1="367.3" x2="40.5" y2="355.8" stroke="#7fe519" stroke-width="1"/>
<line x1="43.65" y1="367.3" x2="43.65" y2="355.8" stroke="#7fe519" stroke-width="1"/>
<line x1="46.8" y1="367.3" x2="46.8" y2="355.8" stroke="#7fe519" stroke-width="1"/>
<line x1="49.95" y1="367.3" x2="49.95" y2="355.8" stroke="#7fe519" stroke-width="1"/>
<line x1="53.1" y1="367.3" x2="53.1" y2="355.8" stroke="#7fe519" stroke-width="1"/>
<circle cx="75.75" cy="367.3" r="3.4" fill="#7fe519"/>
<line x1="75.75" y1="367.3" x2="41.5" y2="364.5" stroke="#19e57f" stroke-width="1"/>
<line x1="41.5" y1="364.5" x2="42.44" y2="353.04" stroke="#19e57f" stroke-width="1"/>
<line x1="44.64" y1="364.76" x2="45.58" y2="353.29" stroke="#19e57f" stroke-width="1"/>
<line x1="47.78" y1="365.01" x2="48.72" y2="353.55" stroke="#19e57f" stroke-width="1"/>
<line x1="50.92" y1="365.27" x2="51.86" y2="353.81" stroke="#19e57f" stroke-width="1"/>
<line x1="54.06" y1="365.53" x2="55" y2="354.06" stroke="#19e57f" stroke-width="1"/>
<circle cx="75.75" cy="367.3" r="3.4" fill="#19e57f"/>
<polygon points="75.75,358.7 70.6,374.3 82,374.3" fill="none" stroke="#19e57f" stroke-width="1"/>
<line x1="281.5" y1="278.6" x2="251.5" y2="295" stroke="#199999" stroke-width="1"/>
<line x1="251.5" y1="295" x2="246.61" y2="286.05" stroke="#199999" stroke-width="1"/>
<line x1="254.26" y1="293.49" x2="249.37" y2="284.54" stroke="#199999" stroke-width="1"/>
<line x1="257.03" y1="291.98" x2="254.39" y2="287.15" stroke="#199999" stroke-width="1"/>
<circle cx="281.5" cy="278.6" r="3.1" fill="#199999"/>
<line x1="214.25" y1="185" x2="244.48" y2="202.64" stroke="#ff0000" stroke-width="1"/>
<line x1="244.48" y1="202.64" x2="238.68" y2="212.58" stroke="#ff0000" stroke-width="1"/>
<line x1="241.76" y1="201.06" x2="235.96" y2="210.99" stroke="#ff0000" stroke-width="1"/>
<line x1="239.04" y1="199.47" x2="233.24" y2="209.4" stroke="#ff0000" stroke-width="1"/>
<line x1="236.32" y1="197.88" x2="230.52" y2="207.81" stroke="#ff0000" stroke-width="1"/>
<line x1="218.75" y1="182.5" x2="249.07" y2="199.98" stroke="#ff0000" stroke-width="1"/>
<line x1="249.07" y1="199.98" x2="243.33" y2="209.94" stroke="#ff0000" stroke-width="1"/>
<line x1="246.34" y1="198.41" x2="240.6" y2="208.37" stroke="#ff0000" stroke-width="1"/>
<line x1="243.61" y1="196.83" x2="237.87" y2="206.8" stroke="#ff0000" stroke-width="1"/>
<line x1="240.89" y1="195.26" x2="235.14" y2="205.22" stroke="#ff0000" stroke-width="1"/>
<line x1="224.75" y1="178.7" x2="254.93" y2="196.42" stroke="#ff0000" stroke-width="1"/>
<line x1="254.93" y1="196.42" x2="249.11" y2="206.34" stroke="#ff0000" stroke-width="1"/>
<line x1="252.22" y1="194.83" x2="246.39" y2="204.74" stroke="#ff0000" stroke-width="1"/>
<line x1="249.5" y1="193.23" x2="243.68" y2="203.15" stroke="#ff0000" stroke-width="1"/>
<line x1="246.78" y1="191.64" x2="240.96" y2="201.55" stroke="#ff0000" stroke-width="1"/>
<line x1="227.75" y1="176.75" x2="258.17" y2="194.06" stroke="#ff0000" stroke-width="1"/>
<line x1="258.17" y1="194.06" x2="252.48" y2="204.06" stroke="#ff0000" stroke-width="1"/>
<line x1="255.43" y1="192.51" x2="249.74" y2="202.5" stroke="#ff0000" stroke-width="1"/>
<line x1="252.69" y1="190.95" x2="247" y2="200.94" stroke="#ff0000" stroke-width="1"/>
<line x1="249.95" y1="189.39" x2="244.27" y2="199.38" stroke="#ff0000" stroke-width="1"/>
<line x1="233.75" y1="173.3" x2="264.04" y2="190.83" stroke="#ff0000" stroke-width="1"/>
<line x1="264.04" y1="190.83" x2="258.28" y2="200.79" stroke="#ff0000" stroke-width="1"/>
<line x1="261.31" y1="189.26" x2="255.55" y2="199.21" stroke="#ff0000" stroke-width="1"/>
<line x1="258.59" y1="187.68" x2="252.83" y2="197.63" stroke="#ff0000" stroke-width="1"/>
<line x1="255.86" y1="186.1" x2="250.1" y2="196.05" stroke="#ff0000" stroke-width="1"/>
<line x1="238.25" y1="167" x2="268.65" y2="184.34" stroke="#ff0000" stroke-width="1"/>
<line x1="268.65" y1="184.34" x2="262.95" y2="194.33" stroke="#ff0000" stroke-width="1"/>
<line x1="265.91" y1="182.78" x2="260.22" y2="192.77" stroke="#ff0000" stroke-width="1"/>
<line x1="263.18" y1="181.22" x2="257.48" y2="191.21" stroke="#ff0000" stroke-width="1"/>
<line x1="260.44" y1="179.66" x2="254.74" y2="189.65" stroke="#ff0000" stroke-width="1"/>
<line x1="241.25" y1="164.75" x2="271.79" y2="181.86" stroke="#ff0000" stroke-width="1"/>
<line x1="271.79" y1="181.86" x2="266.16" y2="191.89" stroke="#ff0000" stroke-width="1"/>
<line x1="269.04" y1="180.32" x2="263.42" y2="190.35" stroke="#ff0000" stroke-width="1"/>
<line x1="266.29" y1="178.78" x2="260.67" y2="188.81" stroke="#ff0000" stroke-width="1"/>
<line x1="263.54" y1="177.24" x2="257.92" y2="187.27" stroke="#ff0000" stroke-width="1"/>
<line x1="248" y1="158.75" x2="278.43" y2="176.04" stroke="#ff0000" stroke-width="1"/>
<line x1="278.43" y1="176.04" x2="272.75" y2="186.04" stroke="#ff0000" stroke-width="1"/>
<line x1="275.69" y1="174.49" x2="270.01" y2="184.48" stroke="#ff0000" stroke-width="1"/>
<line x1="272.95" y1="172.93" x2="267.27" y2="182.93" stroke="#ff0000" stroke-width="1"/>
<line x1="270.21" y1="171.37" x2="264.53" y2="181.37" stroke="#ff0000" stroke-width="1"/>
<line x1="251.4" y1="157.2" x2="282.02" y2="174.15" stroke="#ff0000" stroke-width="1"/>
<line x1="282.02" y1="174.15" x2="276.45" y2="184.21" stroke="#ff0000" stroke-width="1"/>
<line x1="279.26" y1="172.63" x2="273.69" y2="182.69" stroke="#ff0000" stroke-width="1"/>
<line x1="276.51" y1="171.1" x2="270.94" y2="181.16" stroke="#ff0000" stroke-width="1"/>
<line x1="273.75" y1="169.57" x2="268.18" y2="179.64" stroke="#ff0000" stroke-width="1"/>
<line x1="257.5" y1="153.8" x2="288.02" y2="170.93" stroke="#ff0000" stroke-width="1"/>
<line x1="288.02" y1="170.93" x2="282.39" y2="180.96" stroke="#ff0000" stroke-width="1"/>
<line x1="285.27" y1="169.39" x2="279.65" y2="179.42" stroke="#ff0000" stroke-width="1"/>
<line x1="282.53" y1="167.85" x2="276.9" y2="177.87" stroke="#ff0000" stroke-width="1"/>
<line x1="279.78" y1="166.3" x2="274.15" y2="176.33" stroke="#ff0000" stroke-width="1"/>
<line x1="261.3" y1="147.3" x2="292" y2="164.12" stroke="#ff0000" stroke-width="1"/>
<line x1="292" y1="164.12" x2="286.47" y2="174.2" stroke="#ff0000" stroke-width="1"/>
<line x1="289.23" y1="162.6" x2="283.71" y2="172.69" stroke="#ff0000" stroke-width="1"/>
<line x1="286.47" y1="161.09" x2="280.94" y2="171.18" stroke="#ff0000" stroke-width="1"/>
<line x1="283.71" y1="159.58" x2="278.18" y2="169.66" stroke="#ff0000" stroke-width="1"/>
<line x1="268" y1="143.5" x2="298.73" y2="160.25" stroke="#ff0000" stroke-width="1"/>
<line x1="298.73" y1="160.25" x2="293.23" y2="170.34" stroke="#ff0000" stroke-width="1"/>
<line x1="295.97" y1="158.74" x2="290.47" y2="168.84" stroke="#ff0000" stroke-width="1"/>
<line x1="293.2" y1="157.23" x2="287.7" y2="167.33" stroke="#ff0000" stroke-width="1"/>
<line x1="290.44" y1="155.72" x2="284.93" y2="165.82" stroke="#ff0000" stroke-width="1"/>
<line x1="271" y1="141.6" x2="301.64" y2="158.52" stroke="#ff0000" stroke-width="1"/>
<line x1="301.64" y1="158.52" x2="296.08" y2="168.59" stroke="#ff0000" stroke-width="1"/>
<line x1="298.88" y1="157" x2="293.32" y2="167.07" stroke="#ff0000" stroke-width="1"/>
<line x1="296.12" y1="155.48" x2="290.56" y2="165.54" stroke="#ff0000" stroke-width="1"/>
<line x1="293.37" y1="153.95" x2="287.81" y2="164.02" stroke="#ff0000" stroke-width="1"/>
<line x1="274" y1="139.75" x2="304.52" y2="156.89" stroke="#ff0000" stroke-width="1"/>
<line x1="304.52" y1="156.89" x2="298.88" y2="166.92" stroke="#ff0000" stroke-width="1"/>
<line x1="301.77" y1="155.35" x2="296.14" y2="165.37" stroke="#ff0000" stroke-width="1"/>
<line x1="299.02" y1="153.81" x2="293.39" y2="163.83" stroke="#ff0000" stroke-width="1"/>
<line x1="296.28" y1="152.26" x2="290.64" y2="162.29" stroke="#ff0000" stroke-width="1"/>
<line x1="281.4" y1="134.7" x2="312.22" y2="151.29" stroke="#ff0000" stroke-width="1"/>
<line x1="312.22" y1="151.29" x2="306.77" y2="161.42" stroke="#ff0000" stroke-width="1"/>
<line x1="309.45" y1="149.8" x2="303.99" y2="159.92" stroke="#ff0000" stroke-width="1"/>
<line x1="306.67" y1="148.3" x2="301.22" y2="158.43" stroke="#ff0000" stroke-width="1"/>
<line x1="303.9" y1="146.81" x2="298.45" y2="156.94" stroke="#ff0000" stroke-width="1"/>
<line x1="284.4" y1="128.2" x2="315.22" y2="144.78" stroke="#ff0000" stroke-width="1"/>
<line x1="315.22" y1="144.78" x2="309.78" y2="154.91" stroke="#ff0000" stroke-width="1"/>
<line x1="312.45" y1="143.29" x2="307" y2="153.42" stroke="#ff0000" stroke-width="1"/>
<line x1="309.68" y1="141.8" x2="304.23" y2="151.92" stroke="#ff0000" stroke-width="1"/>
<line x1="306.9" y1="140.3" x2="301.45" y2="150.43" stroke="#ff0000" stroke-width="1"/>
<line x1="291.25" y1="124" x2="321.98" y2="140.75" stroke="#ff0000" stroke-width="1"/>
<line x1="321.98" y1="140.75" x2="316.48" y2="150.85" stroke="#ff0000" stroke-width="1"/>
<line x1="319.21" y1="139.24" x2="313.71" y2="149.34" stroke="#ff0000" stroke-width="1"/>
<line x1="316.45" y1="137.74" x2="310.94" y2="147.83" stroke="#ff0000" stroke-width="1"/>
<line x1="313.68" y1="136.23" x2="308.18" y2="146.33" stroke="#ff0000" stroke-width="1"/>
<line x1="293.9" y1="122.5" x2="324.54" y2="139.42" stroke="#ff0000" stroke-width="1"/>
<line x1="324.54" y1="139.42" x2="318.97" y2="149.49" stroke="#ff0000" stroke-width="1"/>
<line x1="321.78" y1="137.9" x2="316.22" y2="147.97" stroke="#ff0000" stroke-width="1"/>
<line x1="319.02" y1="136.38" x2="313.46" y2="146.44" stroke="#ff0000" stroke-width="1"/>
<line x1="316.26" y1="134.86" x2="310.7" y2="144.92" stroke="#ff0000" stroke-width="1"/>
<line x1="296.5" y1="121" x2="327.28" y2="137.65" stroke="#ff0000" stroke-width="1"/>
<line x1="327.28" y1="137.65" x2="321.81" y2="147.77" stroke="#ff0000" stroke-width="1"/>
<line x1="324.51" y1="136.15" x2="319.04" y2="146.27" stroke="#ff0000" stroke-width="1"/>
<line x1="321.74" y1="134.66" x2="316.27" y2="144.77" stroke="#ff0000" stroke-width="1"/>
<line x1="318.97" y1="133.16" x2="313.5" y2="143.27" stroke="#ff0000" stroke-width="1"/>
<line x1="301.7" y1="118.3" x2="332.58" y2="134.77" stroke="#ff0000" stroke-width="1"/>
<line x1="332.58" y1="134.77" x2="327.17" y2="144.92" stroke="#ff0000" stroke-width="1"/>
<line x1="329.8" y1="133.29" x2="324.39" y2="143.44" stroke="#ff0000" stroke-width="1"/>
<line x1="327.02" y1="131.81" x2="321.61" y2="141.95" stroke="#ff0000" stroke-width="1"/>
<line x1="324.24" y1="130.33" x2="318.83" y2="140.47" stroke="#ff0000" stroke-width="1"/>
<line x1="305.5" y1="111.6" x2="336.22" y2="128.37" stroke="#ff0000" stroke-width="1"/>
<line x1="336.22" y1="128.37" x2="330.71" y2="138.46" stroke="#ff0000" stroke-width="1"/>
<line x1="333.46" y1="126.86" x2="327.95" y2="136.95" stroke="#ff0000" stroke-width="1"/>
<line x1="330.69" y1="125.35" x2="325.18" y2="135.44" stroke="#ff0000" stroke-width="1"/>
<line x1="327.93" y1="123.84" x2="322.42" y2="133.93" stroke="#ff0000" stroke-width="1"/>
<line x1="311.5" y1="107.5" x2="342.76" y2="123.24" stroke="#ff0000" stroke-width="1"/>
<line x1="342.76" y1="123.24" x2="337.59" y2="133.52" stroke="#ff0000" stroke-width="1"/>
<line x1="339.95" y1="121.83" x2="334.77" y2="132.1" stroke="#ff0000" stroke-width="1"/>
<line x1="337.13" y1="120.41" x2="331.96" y2="130.68" stroke="#ff0000" stroke-width="1"/>
<line x1="334.32" y1="118.99" x2="329.15" y2="129.26" stroke="#ff0000" stroke-width="1"/>
<line x1="314.5" y1="105" x2="345.65" y2="120.96" stroke="#ff0000" stroke-width="1"/>
<line x1="345.65" y1="120.96" x2="340.41" y2="131.19" stroke="#ff0000" stroke-width="1"/>
<line x1="342.85" y1="119.52" x2="337.6" y2="129.76" stroke="#ff0000" stroke-width="1"/>
<line x1="340.04" y1="118.08" x2="334.8" y2="128.32" stroke="#ff0000" stroke-width="1"/>
<line x1="337.24" y1="116.65" x2="332" y2="126.88" stroke="#ff0000" stroke-width="1"/>
<line x1="317.5" y1="102.25" x2="349" y2="117.5" stroke="#ff0000" stroke-width="1"/>
<line x1="349" y1="117.5" x2="343.99" y2="127.85" stroke="#ff0000" stroke-width="1"/>
<line x1="346.17" y1="116.13" x2="341.16" y2="126.48" stroke="#ff0000" stroke-width="1"/>
<line x1="343.33" y1="114.75" x2="338.32" y2="125.11" stroke="#ff0000" stroke-width="1"/>
<line x1="340.5" y1="113.38" x2="335.49" y2="123.73" stroke="#ff0000" stroke-width="1"/>
<line x1="324.5" y1="99" x2="356.34" y2="113.53" stroke="#ff0000" stroke-width="1"/>
<line x1="356.34" y1="113.53" x2="351.56" y2="124" stroke="#ff0000" stroke-width="1"/>
<line x1="353.47" y1="112.23" x2="348.7" y2="122.69" stroke="#ff0000" stroke-width="1"/>
<line x1="350.61" y1="110.92" x2="345.83" y2="121.38" stroke="#ff0000" stroke-width="1"/>
<line x1="347.74" y1="109.61" x2="342.97" y2="120.07" stroke="#ff0000" stroke-width="1"/>
<line x1="327.3" y1="97.2" x2="359.27" y2="111.44" stroke="#ff0000" stroke-width="1"/>
<line x1="359.27" y1="111.44" x2="354.59" y2="121.95" stroke="#ff0000" stroke-width="1"/>
<line x1="356.39" y1="110.16" x2="351.72" y2="120.66" stroke="#ff0000" stroke-width="1"/>
<line x1="353.52" y1="108.88" x2="348.84" y2="119.38" stroke="#ff0000" stroke-width="1"/>
<line x1="350.64" y1="107.6" x2="345.96" y2="118.1" stroke="#ff0000" stroke-width="1"/>
<line x1="330" y1="95.3" x2="362.04" y2="109.39" stroke="#ff0000" stroke-width="1"/>
<line x1="362.04" y1="109.39" x2="357.41" y2="119.92" stroke="#ff0000" stroke-width="1"/>
<line x1="359.15" y1="108.12" x2="354.52" y2="118.65" stroke="#ff0000" stroke-width="1"/>
<line x1="356.27" y1="106.86" x2="351.64" y2="117.38" stroke="#ff0000" stroke-width="1"/>
<line x1="353.39" y1="105.59" x2="348.76" y2="116.11" stroke="#ff0000" stroke-width="1"/>
<line x1="336.25" y1="88.25" x2="368.48" y2="101.9" stroke="#ff0000" stroke-width="1"/>
<line x1="368.48" y1="101.9" x2="363.99" y2="112.49" stroke="#ff0000" stroke-width="1"/>
<line x1="365.58" y1="100.67" x2="361.09" y2="111.26" stroke="#ff0000" stroke-width="1"/>
<line x1="362.68" y1="99.44" x2="358.19" y2="110.03" stroke="#ff0000" stroke-width="1"/>
<line x1="359.78" y1="98.22" x2="355.29" y2="108.8" stroke="#ff0000" stroke-width="1"/>
<line x1="339.6" y1="85.25" x2="372.15" y2="98.12" stroke="#ff0000" stroke-width="1"/>
<line x1="372.15" y1="98.12" x2="367.92" y2="108.82" stroke="#ff0000" stroke-width="1"/>
<line x1="369.22" y1="96.96" x2="364.99" y2="107.66" stroke="#ff0000" stroke-width="1"/>
<line x1="366.29" y1="95.81" x2="362.06" y2="106.5" stroke="#ff0000" stroke-width="1"/>
<line x1="363.36" y1="94.65" x2="359.13" y2="105.34" stroke="#ff0000" stroke-width="1"/>
<line x1="342.6" y1="82.9" x2="375.09" y2="95.92" stroke="#ff0000" stroke-width="1"/>
<line x1="375.09" y1="95.92" x2="370.81" y2="106.59" stroke="#ff0000" stroke-width="1"/>
<line x1="372.17" y1="94.74" x2="367.89" y2="105.42" stroke="#ff0000" stroke-width="1"/>
<line x1="369.24" y1="93.57" x2="364.97" y2="104.25" stroke="#ff0000" stroke-width="1"/>
<line x1="366.32" y1="92.4" x2="362.04" y2="103.08" stroke="#ff0000" stroke-width="1"/>
<line x1="350.3" y1="78.2" x2="382.9" y2="90.95" stroke="#ff0000" stroke-width="1"/>
<line x1="382.9" y1="90.95" x2="378.71" y2="101.66" stroke="#ff0000" stroke-width="1"/>
<line x1="379.96" y1="89.8" x2="375.77" y2="100.51" stroke="#ff0000" stroke-width="1"/>
<line x1="377.03" y1="88.66" x2="372.84" y2="99.36" stroke="#ff0000" stroke-width="1"/>
<line x1="374.09" y1="87.51" x2="369.91" y2="98.22" stroke="#ff0000" stroke-width="1"/>
<line x1="371.16" y1="86.36" x2="366.97" y2="97.07" stroke="#ff0000" stroke-width="1"/>
<line x1="353.5" y1="75.3" x2="386.22" y2="87.72" stroke="#ff0000" stroke-width="1"/>
<line x1="386.22" y1="87.72" x2="382.14" y2="98.47" stroke="#ff0000" stroke-width="1"/>
<line x1="383.28" y1="86.6" x2="379.2" y2="97.35" stroke="#ff0000" stroke-width="1"/>
<line x1="380.33" y1="85.48" x2="376.25" y2="96.24" stroke="#ff0000" stroke-width="1"/>
<line x1="377.39" y1="84.37" x2="373.31" y2="95.12" stroke="#ff0000" stroke-width="1"/>
<line x1="374.44" y1="83.25" x2="370.36" y2="94" stroke="#ff0000" stroke-width="1"/>
<line x1="356.5" y1="72.75" x2="389.23" y2="85.16" stroke="#ff0000" stroke-width="1"/>
<line x1="389.23" y1="85.16" x2="385.15" y2="95.91" stroke="#ff0000" stroke-width="1"/>
<line x1="386.28" y1="84.04" x2="382.21" y2="94.79" stroke="#ff0000" stroke-width="1"/>
<line x1="383.34" y1="82.92" x2="379.26" y2="93.68" stroke="#ff0000" stroke-width="1"/>
<line x1="380.39" y1="81.81" x2="376.32" y2="92.56" stroke="#ff0000" stroke-width="1"/>
<line x1="377.45" y1="80.69" x2="373.37" y2="91.44" stroke="#ff0000" stroke-width="1"/>
<line x1="362.5" y1="69" x2="395.44" y2="80.83" stroke="#ff0000" stroke-width="1"/>
<line x1="395.44" y1="80.83" x2="391.55" y2="91.65" stroke="#ff0000" stroke-width="1"/>
<line x1="392.48" y1="79.77" x2="388.59" y2="90.59" stroke="#ff0000" stroke-width="1"/>
<line x1="389.51" y1="78.7" x2="385.62" y2="89.52" stroke="#ff0000" stroke-width="1"/>
<line x1="386.55" y1="77.64" x2="382.66" y2="88.46" stroke="#ff0000" stroke-width="1"/>
<line x1="383.58" y1="76.57" x2="379.69" y2="87.39" stroke="#ff0000" stroke-width="1"/>
<line x1="365.5" y1="66.75" x2="398.49" y2="78.45" stroke="#ff0000" stroke-width="1"/>
<line x1="398.49" y1="78.45" x2="394.64" y2="89.29" stroke="#ff0000" stroke-width="1"/>
<line x1="395.52" y1="77.4" x2="391.67" y2="88.23" stroke="#ff0000" stroke-width="1"/>
<line x1="392.55" y1="76.34" x2="388.71" y2="87.18" stroke="#ff0000" stroke-width="1"/>
<line x1="389.58" y1="75.29" x2="385.74" y2="86.13" stroke="#ff0000" stroke-width="1"/>
<line x1="386.61" y1="74.24" x2="382.77" y2="85.08" stroke="#ff0000" stroke-width="1"/>
<line x1="369.25" y1="59.25" x2="402.29" y2="70.79" stroke="#ff0000" stroke-width="1"/>
<line x1="402.29" y1="70.79" x2="398.5" y2="81.64" stroke="#ff0000" stroke-width="1"/>
<line x1="399.32" y1="69.75" x2="395.53" y2="80.6" stroke="#ff0000" stroke-width="1"/>
<line x1="396.35" y1="68.71" x2="392.56" y2="79.57" stroke="#ff0000" stroke-width="1"/>
<line x1="393.37" y1="67.67" x2="389.58" y2="78.53" stroke="#ff0000" stroke-width="1"/>
<line x1="390.4" y1="66.63" x2="386.61" y2="77.49" stroke="#ff0000" stroke-width="1"/>
<line x1="377.5" y1="54.75" x2="410.54" y2="66.29" stroke="#ff0000" stroke-width="1"/>
<line x1="410.54" y1="66.29" x2="406.75" y2="77.15" stroke="#ff0000" stroke-width="1"/>
<line x1="407.57" y1="65.26" x2="403.77" y2="76.11" stroke="#ff0000" stroke-width="1"/>
<line x1="404.59" y1="64.22" x2="400.8" y2="75.07" stroke="#ff0000" stroke-width="1"/>
<line x1="401.62" y1="63.18" x2="397.83" y2="74.03" stroke="#ff0000" stroke-width="1"/>
<line x1="398.65" y1="62.14" x2="394.85" y2="72.99" stroke="#ff0000" stroke-width="1"/>
<line x1="380.5" y1="52.5" x2="413.61" y2="63.84" stroke="#ff0000" stroke-width="1"/>
<line x1="413.61" y1="63.84" x2="409.88" y2="74.72" stroke="#ff0000" stroke-width="1"/>
<line x1="410.63" y1="62.82" x2="406.9" y2="73.7" stroke="#ff0000" stroke-width="1"/>
<line x1="407.65" y1="61.8" x2="403.92" y2="72.68" stroke="#ff0000" stroke-width="1"/>
<line x1="404.67" y1="60.78" x2="400.94" y2="71.66" stroke="#ff0000" stroke-width="1"/>
<line x1="401.69" y1="59.76" x2="397.96" y2="70.64" stroke="#ff0000" stroke-width="1"/>
<line x1="383.5" y1="50.25" x2="416.64" y2="61.52" stroke="#ff0000" stroke-width="1"/>
<line x1="416.64" y1="61.52" x2="412.94" y2="72.4" stroke="#ff0000" stroke-width="1"/>
<line x1="413.65" y1="60.5" x2="409.95" y2="71.39" stroke="#ff0000" stroke-width="1"/>
<line x1="410.67" y1="59.49" x2="406.97" y2="70.38" stroke="#ff0000" stroke-width="1"/>
<line x1="407.69" y1="58.47" x2="403.99" y2="69.36" stroke="#ff0000" stroke-width="1"/>
<line x1="404.71" y1="57.46" x2="401.01" y2="68.35" stroke="#ff0000" stroke-width="1"/>
<line x1="391.75" y1="45" x2="424.82" y2="56.45" stroke="#ff0000" stroke-width="1"/>
<line x1="424.82" y1="56.45" x2="421.06" y2="67.32" stroke="#ff0000" stroke-width="1"/>
<line x1="421.85" y1="55.42" x2="418.08" y2="66.29" stroke="#ff0000" stroke-width="1"/>
<line x1="418.87" y1="54.39" x2="415.11" y2="65.26" stroke="#ff0000" stroke-width="1"/>
<line x1="415.89" y1="53.36" x2="412.13" y2="64.23" stroke="#ff0000" stroke-width="1"/>
<line x1="412.92" y1="52.33" x2="409.15" y2="63.2" stroke="#ff0000" stroke-width="1"/>
<line x1="394.4" y1="42.8" x2="427.5" y2="54.16" stroke="#ff0000" stroke-width="1"/>
<line x1="427.5" y1="54.16" x2="423.77" y2="65.04" stroke="#ff0000" stroke-width="1"/>
<line x1="424.52" y1="53.14" x2="420.79" y2="64.02" stroke="#ff0000" stroke-width="1"/>
<line x1="421.55" y1="52.12" x2="417.81" y2="62.99" stroke="#ff0000" stroke-width="1"/>
<line x1="418.57" y1="51.09" x2="414.83" y2="61.97" stroke="#ff0000" stroke-width="1"/>
<line x1="415.59" y1="50.07" x2="411.85" y2="60.95" stroke="#ff0000" stroke-width="1"/>
<line x1="397" y1="40.5" x2="430.14" y2="51.76" stroke="#ff0000" stroke-width="1"/>
<line x1="430.14" y1="51.76" x2="426.44" y2="62.65" stroke="#ff0000" stroke-width="1"/>
<line x1="427.16" y1="50.74" x2="423.46" y2="61.63" stroke="#ff0000" stroke-width="1"/>
<line x1="424.18" y1="49.73" x2="420.48" y2="60.62" stroke="#ff0000" stroke-width="1"/>
<line x1="421.19" y1="48.72" x2="417.49" y2="59.61" stroke="#ff0000" stroke-width="1"/>
<line x1="418.21" y1="47.7" x2="414.51" y2="58.59" stroke="#ff0000" stroke-width="1"/>
<line x1="181.6" y1="213.6" x2="152.36" y2="194.36" stroke="#ff0000" stroke-width="1"/>
<line x1="152.36" y1="194.36" x2="158.69" y2="184.75" stroke="#ff0000" stroke-width="1"/>
<line x1="155" y1="196.09" x2="161.32" y2="186.48" stroke="#ff0000" stroke-width="1"/>
<line x1="157.63" y1="197.82" x2="163.95" y2="188.21" stroke="#ff0000" stroke-width="1"/>
<line x1="179.8" y1="216.6" x2="150.53" y2="197.42" stroke="#ff0000" stroke-width="1"/>
<line x1="150.53" y1="197.42" x2="156.83" y2="187.8" stroke="#ff0000" stroke-width="1"/>
<line x1="153.16" y1="199.14" x2="159.46" y2="189.52" stroke="#ff0000" stroke-width="1"/>
<line x1="155.8" y1="200.87" x2="162.1" y2="191.25" stroke="#ff0000" stroke-width="1"/>
<line x1="172.6" y1="219.3" x2="143.14" y2="200.4" stroke="#ff0000" stroke-width="1"/>
<line x1="143.14" y1="200.4" x2="149.36" y2="190.72" stroke="#ff0000" stroke-width="1"/>
<line x1="145.8" y1="202.1" x2="152.01" y2="192.42" stroke="#ff0000" stroke-width="1"/>
<line x1="148.45" y1="203.8" x2="154.66" y2="194.12" stroke="#ff0000" stroke-width="1"/>
<line x1="169.2" y1="226" x2="139.35" y2="207.72" stroke="#ff0000" stroke-width="1"/>
<line x1="139.35" y1="207.72" x2="145.36" y2="197.91" stroke="#ff0000" stroke-width="1"/>
<line x1="142.04" y1="209.36" x2="148.05" y2="199.56" stroke="#ff0000" stroke-width="1"/>
<line x1="144.73" y1="211.01" x2="150.73" y2="201.2" stroke="#ff0000" stroke-width="1"/>
<line x1="166.8" y1="229" x2="135.51" y2="213.31" stroke="#ff0000" stroke-width="1"/>
<line x1="135.51" y1="213.31" x2="140.67" y2="203.03" stroke="#ff0000" stroke-width="1"/>
<line x1="138.33" y1="214.72" x2="143.48" y2="204.44" stroke="#ff0000" stroke-width="1"/>
<line x1="141.14" y1="216.14" x2="146.3" y2="205.86" stroke="#ff0000" stroke-width="1"/>
<line x1="162.4" y1="235.6" x2="129.16" y2="224.64" stroke="#ff0000" stroke-width="1"/>
<line x1="129.16" y1="224.64" x2="132.76" y2="213.72" stroke="#ff0000" stroke-width="1"/>
<line x1="132.15" y1="225.63" x2="135.75" y2="214.7" stroke="#ff0000" stroke-width="1"/>
<line x1="135.14" y1="226.61" x2="138.75" y2="215.69" stroke="#ff0000" stroke-width="1"/>
<line x1="160.2" y1="238.6" x2="126.13" y2="230.6" stroke="#ff0000" stroke-width="1"/>
<line x1="126.13" y1="230.6" x2="128.76" y2="219.4" stroke="#ff0000" stroke-width="1"/>
<line x1="129.19" y1="231.32" x2="131.82" y2="220.12" stroke="#ff0000" stroke-width="1"/>
<line x1="132.26" y1="232.04" x2="134.89" y2="220.84" stroke="#ff0000" stroke-width="1"/>
<line x1="158.2" y1="245.6" x2="123.5" y2="241" stroke="#ff0000" stroke-width="1"/>
<line x1="123.5" y1="241" x2="125.01" y2="229.6" stroke="#ff0000" stroke-width="1"/>
<line x1="126.63" y1="241.42" x2="128.14" y2="230.02" stroke="#ff0000" stroke-width="1"/>
<line x1="129.75" y1="241.83" x2="131.26" y2="230.43" stroke="#ff0000" stroke-width="1"/>
<line x1="156.6" y1="248.4" x2="121.81" y2="244.59" stroke="#ff0000" stroke-width="1"/>
<line x1="121.81" y1="244.59" x2="123.06" y2="233.16" stroke="#ff0000" stroke-width="1"/>
<line x1="124.94" y1="244.93" x2="126.19" y2="233.5" stroke="#ff0000" stroke-width="1"/>
<line x1="128.07" y1="245.28" x2="129.32" y2="233.84" stroke="#ff0000" stroke-width="1"/>
<line x1="152" y1="255" x2="117.07" y2="252.84" stroke="#ff0000" stroke-width="1"/>
<line x1="117.07" y1="252.84" x2="117.78" y2="241.36" stroke="#ff0000" stroke-width="1"/>
<line x1="120.21" y1="253.03" x2="120.92" y2="241.55" stroke="#ff0000" stroke-width="1"/>
<line x1="123.35" y1="253.23" x2="124.07" y2="241.75" stroke="#ff0000" stroke-width="1"/>
<line x1="149" y1="261.5" x2="114.18" y2="257.99" stroke="#ff0000" stroke-width="1"/>
<line x1="114.18" y1="257.99" x2="115.33" y2="246.55" stroke="#ff0000" stroke-width="1"/>
<line x1="117.31" y1="258.31" x2="118.46" y2="246.87" stroke="#ff0000" stroke-width="1"/>
<line x1="120.44" y1="258.63" x2="121.6" y2="247.18" stroke="#ff0000" stroke-width="1"/>
<line x1="148.3" y1="263.8" x2="113.48" y2="260.28" stroke="#ff0000" stroke-width="1"/>
<line x1="113.48" y1="260.28" x2="114.63" y2="248.84" stroke="#ff0000" stroke-width="1"/>
<line x1="116.61" y1="260.6" x2="117.77" y2="249.16" stroke="#ff0000" stroke-width="1"/>
<line x1="119.75" y1="260.92" x2="120.9" y2="249.47" stroke="#ff0000" stroke-width="1"/>
<line x1="144" y1="272.4" x2="109" y2="272.47" stroke="#ff0000" stroke-width="1"/>
<line x1="109" y1="272.47" x2="108.98" y2="260.97" stroke="#ff0000" stroke-width="1"/>
<line x1="112.15" y1="272.47" x2="112.13" y2="260.97" stroke="#ff0000" stroke-width="1"/>
<line x1="115.3" y1="272.46" x2="115.28" y2="260.96" stroke="#ff0000" stroke-width="1"/>
<line x1="142.6" y1="275" x2="107.6" y2="275.01" stroke="#ff0000" stroke-width="1"/>
<line x1="107.6" y1="275.01" x2="107.6" y2="263.51" stroke="#ff0000" stroke-width="1"/>
<line x1="110.75" y1="275.01" x2="110.75" y2="263.51" stroke="#ff0000" stroke-width="1"/>
<line x1="113.9" y1="275.01" x2="113.9" y2="263.51" stroke="#ff0000" stroke-width="1"/>
<line x1="138.7" y1="279.2" x2="103.7" y2="279.54" stroke="#ff0000" stroke-width="1"/>
<line x1="103.7" y1="279.54" x2="103.59" y2="268.04" stroke="#ff0000" stroke-width="1"/>
<line x1="106.85" y1="279.51" x2="106.74" y2="268.01" stroke="#ff0000" stroke-width="1"/>
<line x1="110" y1="279.48" x2="109.89" y2="267.98" stroke="#ff0000" stroke-width="1"/>
<line x1="137.3" y1="281.8" x2="102.3" y2="281.68" stroke="#ff0000" stroke-width="1"/>
<line x1="102.3" y1="281.68" x2="102.34" y2="270.18" stroke="#ff0000" stroke-width="1"/>
<line x1="105.45" y1="281.69" x2="105.49" y2="270.19" stroke="#ff0000" stroke-width="1"/>
<line x1="108.6" y1="281.7" x2="108.64" y2="270.2" stroke="#ff0000" stroke-width="1"/>
<line x1="135" y1="290.25" x2="100" y2="290.06" stroke="#ff0000" stroke-width="1"/>
<line x1="100" y1="290.06" x2="100.06" y2="278.56" stroke="#ff0000" stroke-width="1"/>
<line x1="103.15" y1="290.07" x2="103.21" y2="278.57" stroke="#ff0000" stroke-width="1"/>
<line x1="106.3" y1="290.09" x2="106.36" y2="278.59" stroke="#ff0000" stroke-width="1"/>
<line x1="130.5" y1="297.2" x2="95.51" y2="296.41" stroke="#ff0000" stroke-width="1"/>
<line x1="95.51" y1="296.41" x2="95.77" y2="284.92" stroke="#ff0000" stroke-width="1"/>
<line x1="98.66" y1="296.48" x2="98.92" y2="284.99" stroke="#ff0000" stroke-width="1"/>
<line x1="101.81" y1="296.56" x2="102.07" y2="285.06" stroke="#ff0000" stroke-width="1"/>
<line x1="129" y1="299.8" x2="94.02" y2="298.55" stroke="#ff0000" stroke-width="1"/>
<line x1="94.02" y1="298.55" x2="94.43" y2="287.06" stroke="#ff0000" stroke-width="1"/>
<line x1="97.17" y1="298.66" x2="97.58" y2="287.17" stroke="#ff0000" stroke-width="1"/>
<line x1="100.32" y1="298.77" x2="100.73" y2="287.28" stroke="#ff0000" stroke-width="1"/>
<line x1="123.75" y1="306" x2="88.79" y2="304.3" stroke="#ff0000" stroke-width="1"/>
<line x1="88.79" y1="304.3" x2="89.35" y2="292.82" stroke="#ff0000" stroke-width="1"/>
<line x1="91.94" y1="304.46" x2="92.49" y2="292.97" stroke="#ff0000" stroke-width="1"/>
<line x1="95.08" y1="304.61" x2="95.64" y2="293.12" stroke="#ff0000" stroke-width="1"/>
<line x1="117.75" y1="310.2" x2="82.87" y2="307.35" stroke="#ff0000" stroke-width="1"/>
<line x1="82.87" y1="307.35" x2="83.8" y2="295.89" stroke="#ff0000" stroke-width="1"/>
<line x1="86.01" y1="307.6" x2="86.94" y2="296.14" stroke="#ff0000" stroke-width="1"/>
<line x1="89.15" y1="307.86" x2="90.08" y2="296.4" stroke="#ff0000" stroke-width="1"/>
<line x1="112.5" y1="316.5" x2="77.68" y2="312.95" stroke="#ff0000" stroke-width="1"/>
<line x1="77.68" y1="312.95" x2="78.84" y2="301.51" stroke="#ff0000" stroke-width="1"/>
<line x1="80.81" y1="313.27" x2="81.98" y2="301.83" stroke="#ff0000" stroke-width="1"/>
<line x1="83.95" y1="313.59" x2="85.11" y2="302.15" stroke="#ff0000" stroke-width="1"/>
<line x1="110" y1="319.5" x2="75.22" y2="315.6" stroke="#ff0000" stroke-width="1"/>
<line x1="75.22" y1="315.6" x2="76.5" y2="304.17" stroke="#ff0000" stroke-width="1"/>
<line x1="78.35" y1="315.95" x2="79.63" y2="304.52" stroke="#ff0000" stroke-width="1"/>
<line x1="81.48" y1="316.3" x2="82.76" y2="304.87" stroke="#ff0000" stroke-width="1"/>
<line x1="107.3" y1="322.5" x2="72.55" y2="318.3" stroke="#ff0000" stroke-width="1"/>
<line x1="72.55" y1="318.3" x2="73.93" y2="306.88" stroke="#ff0000" stroke-width="1"/>
<line x1="75.68" y1="318.68" x2="77.06" y2="307.26" stroke="#ff0000" stroke-width="1"/>
<line x1="78.81" y1="319.05" x2="80.19" y2="307.64" stroke="#ff0000" stroke-width="1"/>
<line x1="99.4" y1="328.8" x2="64.86" y2="323.17" stroke="#ff0000" stroke-width="1"/>
<line x1="64.86" y1="323.17" x2="66.7" y2="311.82" stroke="#ff0000" stroke-width="1"/>
<line x1="67.96" y1="323.68" x2="69.81" y2="312.33" stroke="#ff0000" stroke-width="1"/>
<line x1="71.07" y1="324.19" x2="72.92" y2="312.84" stroke="#ff0000" stroke-width="1"/>
<line x1="74.18" y1="324.69" x2="76.03" y2="313.34" stroke="#ff0000" stroke-width="1"/>
<line x1="96.6" y1="331.2" x2="62.13" y2="325.14" stroke="#ff0000" stroke-width="1"/>
<line x1="62.13" y1="325.14" x2="64.12" y2="313.82" stroke="#ff0000" stroke-width="1"/>
<line x1="65.23" y1="325.69" x2="67.22" y2="314.36" stroke="#ff0000" stroke-width="1"/>
<line x1="68.33" y1="326.23" x2="70.32" y2="314.91" stroke="#ff0000" stroke-width="1"/>
<line x1="71.44" y1="326.78" x2="73.43" y2="315.45" stroke="#ff0000" stroke-width="1"/>
<line x1="87.6" y1="337.6" x2="53.27" y2="330.79" stroke="#ff0000" stroke-width="1"/>
<line x1="53.27" y1="330.79" x2="55.51" y2="319.51" stroke="#ff0000" stroke-width="1"/>
<line x1="56.36" y1="331.4" x2="58.6" y2="320.12" stroke="#ff0000" stroke-width="1"/>
<line x1="59.45" y1="332.01" x2="61.69" y2="320.73" stroke="#ff0000" stroke-width="1"/>
<line x1="62.54" y1="332.63" x2="64.78" y2="321.35" stroke="#ff0000" stroke-width="1"/>
<line x1="84.4" y1="340.4" x2="50.18" y2="333.07" stroke="#ff0000" stroke-width="1"/>
<line x1="50.18" y1="333.07" x2="52.59" y2="321.82" stroke="#ff0000" stroke-width="1"/>
<line x1="53.26" y1="333.73" x2="55.67" y2="322.48" stroke="#ff0000" stroke-width="1"/>
<line x1="56.34" y1="334.39" x2="58.75" y2="323.14" stroke="#ff0000" stroke-width="1"/>
<line x1="59.42" y1="335.05" x2="61.83" y2="323.8" stroke="#ff0000" stroke-width="1"/>
<line x1="75.6" y1="347.9" x2="41.52" y2="339.94" stroke="#ff0000" stroke-width="1"/>
<line x1="41.52" y1="339.94" x2="44.13" y2="328.74" stroke="#ff0000" stroke-width="1"/>
<line x1="44.59" y1="340.65" x2="47.2" y2="329.46" stroke="#ff0000" stroke-width="1"/>
<line x1="47.65" y1="341.37" x2="50.27" y2="330.17" stroke="#ff0000" stroke-width="1"/>
<line x1="50.72" y1="342.09" x2="53.34" y2="330.89" stroke="#ff0000" stroke-width="1"/>
<line x1="72.9" y1="350.2" x2="38.99" y2="341.54" stroke="#ff0000" stroke-width="1"/>
<line x1="38.99" y1="341.54" x2="41.84" y2="330.39" stroke="#ff0000" stroke-width="1"/>
<line x1="42.04" y1="342.32" x2="44.89" y2="331.17" stroke="#ff0000" stroke-width="1"/>
<line x1="45.09" y1="343.09" x2="47.94" y2="331.95" stroke="#ff0000" stroke-width="1"/>
<line x1="48.15" y1="343.87" x2="50.99" y2="332.73" stroke="#ff0000" stroke-width="1"/>
<line x1="66" y1="355" x2="32.17" y2="346.03" stroke="#ff0000" stroke-width="1"/>
<line x1="32.17" y1="346.03" x2="35.11" y2="334.92" stroke="#ff0000" stroke-width="1"/>
<line x1="35.21" y1="346.84" x2="38.16" y2="335.72" stroke="#ff0000" stroke-width="1"/>
<line x1="38.26" y1="347.65" x2="41.2" y2="336.53" stroke="#ff0000" stroke-width="1"/>
<line x1="41.3" y1="348.45" x2="44.25" y2="337.34" stroke="#ff0000" stroke-width="1"/>
<line x1="63" y1="358" x2="29.27" y2="348.64" stroke="#ff0000" stroke-width="1"/>
<line x1="29.27" y1="348.64" x2="32.35" y2="337.56" stroke="#ff0000" stroke-width="1"/>
<line x1="32.31" y1="349.48" x2="35.38" y2="338.4" stroke="#ff0000" stroke-width="1"/>
<line x1="35.34" y1="350.33" x2="38.42" y2="339.24" stroke="#ff0000" stroke-width="1"/>
<line x1="38.38" y1="351.17" x2="41.46" y2="340.09" stroke="#ff0000" stroke-width="1"/>
<line x1="60" y1="361" x2="26.28" y2="351.62" stroke="#ff0000" stroke-width="1"/>
<line x1="26.28" y1="351.62" x2="29.37" y2="340.54" stroke="#ff0000" stroke-width="1"/>
<line x1="29.32" y1="352.46" x2="32.4" y2="341.38" stroke="#ff0000" stroke-width="1"/>
<line x1="32.35" y1="353.3" x2="35.43" y2="342.23" stroke="#ff0000" stroke-width="1"/>
<line x1="35.39" y1="354.15" x2="38.47" y2="343.07" stroke="#ff0000" stroke-width="1"/>
<line x1="51.6" y1="368" x2="17.89" y2="358.58" stroke="#ff0000" stroke-width="1"/>
<line x1="17.89" y1="358.58" x2="20.98" y2="347.51" stroke="#ff0000" stroke-width="1"/>
<line x1="20.92" y1="359.43" x2="24.02" y2="348.35" stroke="#ff0000" stroke-width="1"/>
<line x1="23.96" y1="360.28" x2="27.05" y2="349.2" stroke="#ff0000" stroke-width="1"/>
<line x1="26.99" y1="361.13" x2="30.09" y2="350.05" stroke="#ff0000" stroke-width="1"/>
<line x1="48.4" y1="370.6" x2="14.73" y2="361.03" stroke="#ff0000" stroke-width="1"/>
<line x1="14.73" y1="361.03" x2="17.88" y2="349.97" stroke="#ff0000" stroke-width="1"/>
<line x1="17.76" y1="361.89" x2="20.91" y2="350.83" stroke="#ff0000" stroke-width="1"/>
<line x1="20.79" y1="362.76" x2="23.94" y2="351.69" stroke="#ff0000" stroke-width="1"/>
<line x1="23.82" y1="363.62" x2="26.97" y2="352.55" stroke="#ff0000" stroke-width="1"/>
<line x1="41.4" y1="375" x2="7.79" y2="365.23" stroke="#ff0000" stroke-width="1"/>
<line x1="7.79" y1="365.23" x2="11" y2="354.19" stroke="#ff0000" stroke-width="1"/>
<line x1="10.82" y1="366.11" x2="14.02" y2="355.07" stroke="#ff0000" stroke-width="1"/>
<line x1="13.84" y1="366.99" x2="17.05" y2="355.95" stroke="#ff0000" stroke-width="1"/>
<line x1="16.86" y1="367.87" x2="20.07" y2="356.83" stroke="#ff0000" stroke-width="1"/>
<line x1="38.6" y1="377.2" x2="4.86" y2="367.89" stroke="#ff0000" stroke-width="1"/>
<line x1="4.86" y1="367.89" x2="7.92" y2="356.8" stroke="#ff0000" stroke-width="1"/>
<line x1="7.9" y1="368.73" x2="10.96" y2="357.64" stroke="#ff0000" stroke-width="1"/>
<line x1="10.93" y1="369.57" x2="13.99" y2="358.48" stroke="#ff0000" stroke-width="1"/>
<line x1="13.97" y1="370.4" x2="17.03" y2="359.32" stroke="#ff0000" stroke-width="1"/>
<line x1="34.4" y1="384.2" x2="0.75" y2="374.58" stroke="#ff0000" stroke-width="1"/>
<line x1="0.75" y1="374.58" x2="3.91" y2="363.52" stroke="#ff0000" stroke-width="1"/>
<line x1="3.78" y1="375.45" x2="6.94" y2="364.39" stroke="#ff0000" stroke-width="1"/>
<line x1="6.81" y1="376.31" x2="9.97" y2="365.25" stroke="#ff0000" stroke-width="1"/>
<line x1="9.83" y1="377.18" x2="13" y2="366.12" stroke="#ff0000" stroke-width="1"/>
<line x1="27.6" y1="387.9" x2="-6.11" y2="378.49" stroke="#ff0000" stroke-width="1"/>
<line x1="-6.11" y1="378.49" x2="-3.02" y2="367.41" stroke="#ff0000" stroke-width="1"/>
<line x1="-3.08" y1="379.33" x2="0.02" y2="368.26" stroke="#ff0000" stroke-width="1"/>
<line x1="-0.04" y1="380.18" x2="3.05" y2="369.1" stroke="#ff0000" stroke-width="1"/>
<line x1="2.99" y1="381.03" x2="6.08" y2="369.95" stroke="#ff0000" stroke-width="1"/>
<line x1="24.6" y1="390" x2="-9.12" y2="380.62" stroke="#ff0000" stroke-width="1"/>
<line x1="-9.12" y1="380.62" x2="-6.04" y2="369.54" stroke="#ff0000" stroke-width="1"/>
<line x1="-6.09" y1="381.47" x2="-3" y2="370.39" stroke="#ff0000" stroke-width="1"/>
<line x1="-3.05" y1="382.31" x2="0.03" y2="371.23" stroke="#ff0000" stroke-width="1"/>
<line x1="-0.02" y1="383.15" x2="3.07" y2="372.08" stroke="#ff0000" stroke-width="1"/>
<line x1="19.2" y1="392.6" x2="-14.53" y2="383.26" stroke="#ff0000" stroke-width="1"/>
<line x1="-14.53" y1="383.26" x2="-11.46" y2="372.18" stroke="#ff0000" stroke-width="1"/>
<line x1="-11.5" y1="384.1" x2="-8.43" y2="373.02" stroke="#ff0000" stroke-width="1"/>
<line x1="-8.46" y1="384.94" x2="-5.39" y2="373.86" stroke="#ff0000" stroke-width="1"/>
<line x1="-5.42" y1="385.78" x2="-2.36" y2="374.7" stroke="#ff0000" stroke-width="1"/>
<line x1="16.2" y1="394.7" x2="-17.39" y2="384.86" stroke="#ff0000" stroke-width="1"/>
<line x1="-17.39" y1="384.86" x2="-14.16" y2="373.83" stroke="#ff0000" stroke-width="1"/>
<line x1="-14.37" y1="385.75" x2="-11.13" y2="374.71" stroke="#ff0000" stroke-width="1"/>
<line x1="-11.34" y1="386.63" x2="-8.11" y2="375.6" stroke="#ff0000" stroke-width="1"/>
<line x1="-8.32" y1="387.52" x2="-5.09" y2="376.48" stroke="#ff0000" stroke-width="1"/>
<line x1="189.5" y1="209.3" x2="157.5" y2="199.5" stroke="#ff0000" stroke-width="1"/>
<line x1="157.5" y1="199.5" x2="160.87" y2="188.5" stroke="#ff0000" stroke-width="1"/>
<line x1="160.51" y1="200.42" x2="163.88" y2="189.43" stroke="#ff0000" stroke-width="1"/>
<line x1="163.52" y1="201.34" x2="166.89" y2="190.35" stroke="#ff0000" stroke-width="1"/>
<line x1="203" y1="198" x2="231.8" y2="216.5" stroke="#ff0000" stroke-width="1"/>
<line x1="231.8" y1="216.5" x2="225.58" y2="226.18" stroke="#ff0000" stroke-width="1"/>
<line x1="201.5" y1="202" x2="226" y2="224.3" stroke="#ff0000" stroke-width="1"/>
<line x1="205.6" y1="203" x2="208.2" y2="230" stroke="#ff0000" stroke-width="1"/>
<line x1="208.2" y1="230" x2="202.73" y2="230.53" stroke="#ff0000" stroke-width="1"/>
<line x1="200.8" y1="203.5" x2="178.75" y2="230" stroke="#ff0000" stroke-width="1"/>
<line x1="178.75" y1="230" x2="171.22" y2="223.73" stroke="#ff0000" stroke-width="1"/>
<line x1="200.6" y1="201" x2="171.25" y2="223.75" stroke="#ff0000" stroke-width="1"/>
<polygon points="274.75,129.5 268,146 281.5,146" fill="none" stroke="#ff0000" stroke-width="1"/>
<circle cx="214.25" cy="185" r="3.4" fill="#ff0000"/>
<circle cx="218.75" cy="182.5" r="3.4" fill="#ff0000"/>
<circle cx="224.75" cy="178.7" r="3.4" fill="#ff0000"/>
<circle cx="227.75" cy="176.75" r="3.4" fill="#ff0000"/>
<circle cx="233.75" cy="173.3" r="3.4" fill="#ff0000"/>
<circle cx="238.25" cy="167" r="3.4" fill="#ff0000"/>
<circle cx="241.25" cy="164.75" r="3.4" fill="#ff0000"/>
<circle cx="248" cy="158.75" r="3.4" fill="#ff0000"/>
<circle cx="251.4" cy="157.2" r="3.4" fill="#ff0000"/>
<circle cx="257.5" cy="153.8" r="3.4" fill="#ff0000"/>
<circle cx="261.3" cy="147.3" r="3.4" fill="#ff0000"/>
<circle cx="268" cy="143.5" r="3.4" fill="#ff0000"/>
<circle cx="271" cy="141.6" r="3.4" fill="#ff0000"/>
<circle cx="274" cy="139.75" r="3.4" fill="#ff0000"/>
<circle cx="281.4" cy="134.7" r="3.4" fill="#ff0000"/>
<circle cx="284.4" cy="128.2" r="3.4" fill="#ff0000"/>
<circle cx="291.25" cy="124" r="3.4" fill="#ff0000"/>
<circle cx="293.9" cy="122.5" r="3.4" fill="#ff0000"/>
<circle cx="296.5" cy="121" r="3.4" fill="#ff0000"/>
<circle cx="301.7" cy="118.3" r="3.4" fill="#ff0000"/>
<circle cx="305.5" cy="111.6" r="3.4" fill="#ff0000"/>
<circle cx="311.5" cy="107.5" r="3.4" fill="#ff0000"/>
<circle cx="314.5" cy="105" r="3.4" fill="#ff0000"/>
<circle cx="317.5" cy="102.25" r="3.4" fill="#ff0000"/>
<circle cx="324.5" cy="99" r="3.4" fill="#ff0000"/>
<circle cx="327.3" cy="97.2" r="3.4" fill="#ff0000"/>
<circle cx="330" cy="95.3" r="3.4" fill="#ff0000"/>
<circle cx="336.25" cy="88.25" r="3.4" fill="#ff0000"/>
<circle cx="339.6" cy="85.25" r="3.4" fill="#ff0000"/>
<circle cx="342.6" cy="82.9" r="3.4" fill="#ff0000"/>
<circle cx="350.3" cy="78.2" r="3.4" fill="#ff0000"/>
<circle cx="353.5" cy="75.3" r="3.4" fill="#ff0000"/>
<circle cx="356.5" cy="72.75" r="3.4" fill="#ff0000"/>
<circle cx="362.5" cy="69" r="3.4" fill="#ff0000"/>
<circle cx="365.5" cy="66.75" r="3.4" fill="#ff0000"/>
<circle cx="369.25" cy="59.25" r="3.4" fill="#ff0000"/>
<circle cx="377.5" cy="54.75" r="3.4" fill="#ff0000"/>
<circle cx="380.5" cy="52.5" r="3.4" fill="#ff0000"/>
<circle cx="383.5" cy="50.25" r="3.4" fill="#ff0000"/>
<circle cx="391.75" cy="45" r="3.4" fill="#ff0000"/>
<circle cx="394.4" cy="42.8" r="3.4" fill="#ff0000"/>
<circle cx="397" cy="40.5" r="3.4" fill="#ff0000"/>
<circle cx="189.5" cy="209.3" r="3.4" fill="#ff0000"/>
<circle cx="181.6" cy="213.6" r="3.4" fill="#ff0000"/>
<circle cx="179.8" cy="216.6" r="3.4" fill="#ff0000"/>
<circle cx="172.6" cy="219.3" r="3.4" fill="#ff0000"/>
<circle cx="169.2" cy="226" r="3.4" fill="#ff0000"/>
<circle cx="166.8" cy="229" r="3.4" fill="#ff0000"/>
<circle cx="162.4" cy="235.6" r="3.4" fill="#ff0000"/>
<circle cx="160.2" cy="238.6" r="3.4" fill="#ff0000"/>
<circle cx="158.2" cy="245.6" r="3.4" fill="#ff0000"/>
<circle cx="156.6" cy="248.4" r="3.4" fill="#ff0000"/>
<circle cx="152" cy="255" r="3.4" fill="#ff0000"/>
<circle cx="149" cy="261.5" r="3.4" fill="#ff0000"/>
<circle cx="148.3" cy="263.8" r="3.4" fill="#ff0000"/>
<circle cx="144" cy="272.4" r="3.4" fill="#ff0000"/>
<circle cx="142.6" cy="275" r="3.4" fill="#ff0000"/>
<circle cx="138.7" cy="279.2" r="3.4" fill="#ff0000"/>
<circle cx="137.3" cy="281.8" r="3.4" fill="#ff0000"/>
<circle cx="135" cy="290.25" r="3.4" fill="#ff0000"/>
<circle cx="130.5" cy="297.2" r="3.4" fill="#ff0000"/>
<circle cx="129" cy="299.8" r="3.4" fill="#ff0000"/>
<circle cx="123.75" cy="306" r="3.4" fill="#ff0000"/>
<circle cx="117.75" cy="310.2" r="3.4" fill="#ff0000"/>
<circle cx="112.5" cy="316.5" r="3.4" fill="#ff0000"/>
<circle cx="110" cy="319.5" r="3.4" fill="#ff0000"/>
<circle cx="107.3" cy="322.5" r="3.4" fill="#ff0000"/>
<circle cx="99.4" cy="328.8" r="3.4" fill="#ff0000"/>
<circle cx="96.6" cy="331.2" r="3.4" fill="#ff0000"/>
<circle cx="87.6" cy="337.6" r="3.4" fill="#ff0000"/>
<circle cx="84.4" cy="340.4" r="3.4" fill="#ff0000"/>
<circle cx="75.6" cy="347.9" r="3.4" fill="#ff0000"/>
<circle cx="72.9" cy="350.2" r="3.4" fill="#ff0000"/>
<circle cx="66" cy="355" r="3.4" fill="#ff0000"/>
<circle cx="63" cy="358" r="3.4" fill="#ff0000"/>
<circle cx="60" cy="361" r="3.4" fill="#ff0000"/>
<circle cx="51.6" cy="368" r="3.4" fill="#ff0000"/>
<circle cx="48.4" cy="370.6" r="3.4" fill="#ff0000"/>
<circle cx="41.4" cy="375" r="3.4" fill="#ff0000"/>
<circle cx="38.6" cy="377.2" r="3.4" fill="#ff0000"/>
<circle cx="34.4" cy="384.2" r="3.4" fill="#ff0000"/>
<circle cx="27.6" cy="387.9" r="3.4" fill="#ff0000"/>
<circle cx="24.6" cy="390" r="3.4" fill="#ff0000"/>
<circle cx="19.2" cy="392.6" r="3.4" fill="#ff0000"/>
<circle cx="16.2" cy="394.7" r="3.4" fill="#ff0000"/>
<circle cx="203" cy="198" r="3.4" fill="#ff0000"/>
<circle cx="201.3" cy="202.3" r="3.4" fill="#ff0000"/>
</g>
<g shape-rendering="crispEdges">
<rect x="163" y="163" width="12" height="12" fill="#a00000"/>
<rect x="230" y="232" width="12" height="12" fill="#00a000"/>
</g>
<g shape-rendering="crispEdges">
<circle cx="200.5" cy="200.5" r="10.8" fill="none" stroke="#0000dc" stroke-width="1.6"/>
<circle cx="200.5" cy="200.5" r="7.6" fill="none" stroke="#0000dc" stroke-width="1.6"/>
<line x1="169.2" y1="168.8" x2="236.2" y2="238" stroke="#000" stroke-width="2"/>
<rect x="198.5" y="198.5" width="4.5" height="4.5" fill="#000"/>
<polygon points="219.4,216.2 222.8,219.6 219.4,223 216,219.6" fill="#000"/>
</g>
</svg>
<div id="frame"></div>
</div>
<div class="li" style="top:10px"><span class="sw" style="background:#7fe519"></span><span class="tx" style="color:#7fe519">GPSSONDE_SFC</span></div><div class="li" style="top:30px"><span class="sw" style="background:#6619b2"></span><span class="tx" style="color:#6619b2">GOES_SWIR</span></div><div class="li" style="top:50px"><span class="sw" style="background:#199999"></span><span class="tx" style="color:#199999">SHIP</span></div><div class="li" style="top:70px"><span class="sw" style="background:#33f299"></span><span class="tx" style="color:#33f299">BACKGROUND</span></div><div class="li" style="top:90px"><span class="sw" style="background:#19e57f"></span><span class="tx" style="color:#19e57f">GPSSONDE_WL150</span></div><div class="li" style="top:110px"><span class="sw" style="background:#ffbf00"></span><span class="tx" style="color:#ffbf00">DRIFTING_BUOY</span></div><div class="li" style="top:130px"><span class="sw" style="background:#ff0000"></span><span class="tx" style="color:#ff0000">AFRES</span></div><div class="li" style="top:150px"><span class="sw" style="background:#19bff2"></span><span class="tx" style="color:#19bff2">CMAN</span></div><div class="li" style="top:170px"><span class="sw" style="background:#0000b2"></span><span class="tx" style="color:#0000b2">MOORED_BUOY</span></div><div class="li" style="top:190px"><span class="sw" style="background:#b21966"></span><span class="tx" style="color:#b21966">ASOS_LD_TO</span></div><div class="li" style="top:210px"><span class="sw" style="background:#b2b2b2"></span><span class="tx" style="color:#000;letter-spacing:0.17px">Flagged observations</span></div>
</body></html>
